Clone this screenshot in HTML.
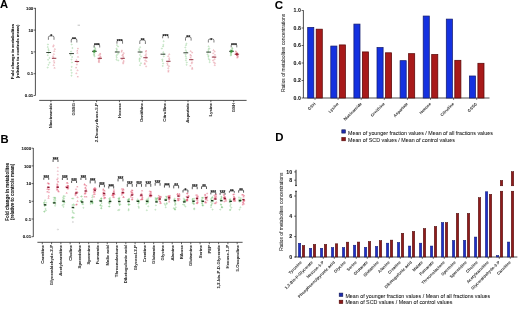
<!DOCTYPE html>
<html><head><meta charset="utf-8"><style>
html,body{margin:0;padding:0;background:#fff;width:520px;height:312px;overflow:hidden}
svg{display:block;filter:blur(0.35px)}
text{font-family:"Liberation Sans",sans-serif;stroke:currentColor;stroke-width:0.07px}
</style></head><body>
<svg width="520" height="312" viewBox="0 0 520 312">
<rect width="520" height="312" fill="#fff"/>
<text x="0.0" y="8.4" font-size="11.2" font-weight="bold" fill="#000" style="stroke-width:0.05px">A</text>
<text x="0.4" y="142.5" font-size="11.2" font-weight="bold" fill="#000" style="stroke-width:0.05px">B</text>
<text x="274.7" y="8.6" font-size="11.6" font-weight="bold" fill="#000" style="stroke-width:0.05px">C</text>
<text x="275.3" y="140.6" font-size="11.4" font-weight="bold" fill="#000" style="stroke-width:0.05px">D</text>
<line x1="35.4" y1="7.9" x2="35.4" y2="95.5" stroke="#222222" stroke-width="0.8"/>
<line x1="33.6" y1="8.30" x2="35.4" y2="8.30" stroke="#222222" stroke-width="0.7"/>
<text x="33.199999999999996" y="10.05" font-size="4.3" font-weight="bold" text-anchor="end" fill="#1a1a1a">100</text>
<line x1="33.6" y1="30.10" x2="35.4" y2="30.10" stroke="#222222" stroke-width="0.7"/>
<text x="33.199999999999996" y="31.85" font-size="4.3" font-weight="bold" text-anchor="end" fill="#1a1a1a">10</text>
<line x1="33.6" y1="51.90" x2="35.4" y2="51.90" stroke="#222222" stroke-width="0.7"/>
<text x="33.199999999999996" y="53.65" font-size="4.3" font-weight="bold" text-anchor="end" fill="#1a1a1a">1</text>
<line x1="33.6" y1="73.70" x2="35.4" y2="73.70" stroke="#222222" stroke-width="0.7"/>
<text x="33.199999999999996" y="75.45" font-size="4.3" font-weight="bold" text-anchor="end" fill="#1a1a1a">0.1</text>
<line x1="33.6" y1="95.50" x2="35.4" y2="95.50" stroke="#222222" stroke-width="0.7"/>
<text x="33.199999999999996" y="97.25" font-size="4.3" font-weight="bold" text-anchor="end" fill="#1a1a1a">0.01</text>
<line x1="39.2" y1="100.4" x2="246.6" y2="100.4" stroke="#222222" stroke-width="0.8"/>
<line x1="50.90" y1="100.3" x2="50.90" y2="102.2" stroke="#222222" stroke-width="0.7"/>
<text transform="translate(52.00,103) rotate(-90)" font-size="4.3" font-weight="bold" text-anchor="end" fill="#333" style="stroke:#333">Niacinamide</text>
<line x1="73.75" y1="100.3" x2="73.75" y2="102.2" stroke="#222222" stroke-width="0.7"/>
<text transform="translate(74.85,103) rotate(-90)" font-size="4.3" font-weight="bold" text-anchor="end" fill="#333" style="stroke:#333">GSSG</text>
<line x1="96.60" y1="100.3" x2="96.60" y2="102.2" stroke="#222222" stroke-width="0.7"/>
<text transform="translate(97.70,103) rotate(-90)" font-size="4.3" font-weight="bold" text-anchor="end" fill="#333" style="stroke:#333">2-Deoxy-ribose-5-P</text>
<line x1="119.45" y1="100.3" x2="119.45" y2="102.2" stroke="#222222" stroke-width="0.7"/>
<text transform="translate(120.55,103) rotate(-90)" font-size="4.3" font-weight="bold" text-anchor="end" fill="#333" style="stroke:#333">Hexose</text>
<line x1="142.30" y1="100.3" x2="142.30" y2="102.2" stroke="#222222" stroke-width="0.7"/>
<text transform="translate(143.40,103) rotate(-90)" font-size="4.3" font-weight="bold" text-anchor="end" fill="#333" style="stroke:#333">Ornithine</text>
<line x1="165.15" y1="100.3" x2="165.15" y2="102.2" stroke="#222222" stroke-width="0.7"/>
<text transform="translate(166.25,103) rotate(-90)" font-size="4.3" font-weight="bold" text-anchor="end" fill="#333" style="stroke:#333">Citrulline</text>
<line x1="188.00" y1="100.3" x2="188.00" y2="102.2" stroke="#222222" stroke-width="0.7"/>
<text transform="translate(189.10,103) rotate(-90)" font-size="4.3" font-weight="bold" text-anchor="end" fill="#333" style="stroke:#333">Aspartate</text>
<line x1="210.85" y1="100.3" x2="210.85" y2="102.2" stroke="#222222" stroke-width="0.7"/>
<text transform="translate(211.95,103) rotate(-90)" font-size="4.3" font-weight="bold" text-anchor="end" fill="#333" style="stroke:#333">Lysine</text>
<line x1="233.70" y1="100.3" x2="233.70" y2="102.2" stroke="#222222" stroke-width="0.7"/>
<text transform="translate(234.80,103) rotate(-90)" font-size="4.3" font-weight="bold" text-anchor="end" fill="#333" style="stroke:#333">GSH</text>
<text transform="translate(13.5,51.5) rotate(-90)" font-size="4.3" font-weight="bold" text-anchor="middle" fill="#1a1a1a">Fold change in metabolites</text>
<text transform="translate(18.6,51.5) rotate(-90)" font-size="4.3" font-weight="bold" text-anchor="middle" fill="#1a1a1a">(relative to controls mean)</text>
<circle cx="47.93" cy="44.43" r="0.55" fill="none" stroke="#7cc47c" stroke-width="0.45" opacity="0.8"/>
<circle cx="47.76" cy="47.10" r="0.55" fill="none" stroke="#7cc47c" stroke-width="0.45" opacity="0.8"/>
<circle cx="48.40" cy="49.17" r="0.55" fill="none" stroke="#7cc47c" stroke-width="0.45" opacity="0.8"/>
<circle cx="48.72" cy="50.76" r="0.55" fill="none" stroke="#7cc47c" stroke-width="0.45" opacity="0.8"/>
<circle cx="48.55" cy="52.96" r="0.55" fill="none" stroke="#7cc47c" stroke-width="0.45" opacity="0.8"/>
<circle cx="47.80" cy="55.23" r="0.55" fill="none" stroke="#7cc47c" stroke-width="0.45" opacity="0.8"/>
<circle cx="49.42" cy="57.93" r="0.55" fill="none" stroke="#7cc47c" stroke-width="0.45" opacity="0.8"/>
<circle cx="48.09" cy="59.76" r="0.55" fill="none" stroke="#7cc47c" stroke-width="0.45" opacity="0.8"/>
<circle cx="49.68" cy="62.66" r="0.55" fill="none" stroke="#7cc47c" stroke-width="0.45" opacity="0.8"/>
<circle cx="48.47" cy="64.82" r="0.55" fill="none" stroke="#7cc47c" stroke-width="0.45" opacity="0.8"/>
<circle cx="47.70" cy="67.58" r="0.55" fill="none" stroke="#7cc47c" stroke-width="0.45" opacity="0.8"/>
<path d="M52.94,45.67L53.64,44.57L54.34,45.67Z" fill="none" stroke="#e07f8c" stroke-width="0.45" opacity="0.8"/>
<path d="M52.56,46.97L53.26,45.87L53.96,46.97Z" fill="none" stroke="#e07f8c" stroke-width="0.45" opacity="0.8"/>
<path d="M54.10,49.47L54.80,48.37L55.50,49.47Z" fill="none" stroke="#e07f8c" stroke-width="0.45" opacity="0.8"/>
<path d="M53.58,51.56L54.28,50.46L54.98,51.56Z" fill="none" stroke="#e07f8c" stroke-width="0.45" opacity="0.8"/>
<path d="M53.12,54.46L53.82,53.36L54.52,54.46Z" fill="none" stroke="#e07f8c" stroke-width="0.45" opacity="0.8"/>
<path d="M52.44,56.61L53.14,55.51L53.84,56.61Z" fill="none" stroke="#e07f8c" stroke-width="0.45" opacity="0.8"/>
<path d="M52.75,58.22L53.45,57.12L54.15,58.22Z" fill="none" stroke="#e07f8c" stroke-width="0.45" opacity="0.8"/>
<path d="M53.24,61.34L53.94,60.24L54.64,61.34Z" fill="none" stroke="#e07f8c" stroke-width="0.45" opacity="0.8"/>
<path d="M53.59,63.11L54.29,62.01L54.99,63.11Z" fill="none" stroke="#e07f8c" stroke-width="0.45" opacity="0.8"/>
<path d="M52.96,65.57L53.66,64.47L54.36,65.57Z" fill="none" stroke="#e07f8c" stroke-width="0.45" opacity="0.8"/>
<path d="M53.84,68.31L54.54,67.21L55.24,68.31Z" fill="none" stroke="#e07f8c" stroke-width="0.45" opacity="0.8"/>
<line x1="46.30" y1="52.50" x2="51.10" y2="52.50" stroke="#1e2e1e" stroke-width="0.9"/>
<line x1="51.90" y1="58.30" x2="56.30" y2="58.30" stroke="#8a2434" stroke-width="0.9"/>
<path d="M48.40,39.80L48.40,37.50Q48.40,35.90 50.00,35.90L52.40,35.90Q54.00,35.90 54.00,37.50L54.00,39.80" fill="none" stroke="#222" stroke-width="0.6"/>
<text x="51.20" y="38.45" font-size="5.0" font-weight="bold" text-anchor="middle" fill="#1a1a1a" stroke="#1a1a1a" stroke-width="0.2">*</text>
<circle cx="71.71" cy="44.45" r="0.55" fill="none" stroke="#7cc47c" stroke-width="0.45" opacity="0.8"/>
<circle cx="72.38" cy="48.03" r="0.55" fill="none" stroke="#7cc47c" stroke-width="0.45" opacity="0.8"/>
<circle cx="71.08" cy="51.47" r="0.55" fill="none" stroke="#7cc47c" stroke-width="0.45" opacity="0.8"/>
<circle cx="70.71" cy="54.99" r="0.55" fill="none" stroke="#7cc47c" stroke-width="0.45" opacity="0.8"/>
<circle cx="72.12" cy="57.02" r="0.55" fill="none" stroke="#7cc47c" stroke-width="0.45" opacity="0.8"/>
<circle cx="71.53" cy="59.60" r="0.55" fill="none" stroke="#7cc47c" stroke-width="0.45" opacity="0.8"/>
<circle cx="71.92" cy="62.45" r="0.55" fill="none" stroke="#7cc47c" stroke-width="0.45" opacity="0.8"/>
<circle cx="71.71" cy="66.85" r="0.55" fill="none" stroke="#7cc47c" stroke-width="0.45" opacity="0.8"/>
<circle cx="71.14" cy="70.12" r="0.55" fill="none" stroke="#7cc47c" stroke-width="0.45" opacity="0.8"/>
<circle cx="71.76" cy="72.85" r="0.55" fill="none" stroke="#7cc47c" stroke-width="0.45" opacity="0.8"/>
<circle cx="71.45" cy="75.70" r="0.55" fill="none" stroke="#7cc47c" stroke-width="0.45" opacity="0.8"/>
<path d="M77.23,48.96L77.93,47.86L78.63,48.96Z" fill="none" stroke="#e07f8c" stroke-width="0.45" opacity="0.8"/>
<path d="M76.61,51.21L77.31,50.11L78.01,51.21Z" fill="none" stroke="#e07f8c" stroke-width="0.45" opacity="0.8"/>
<path d="M76.69,53.39L77.39,52.29L78.09,53.39Z" fill="none" stroke="#e07f8c" stroke-width="0.45" opacity="0.8"/>
<path d="M77.33,57.30L78.03,56.20L78.73,57.30Z" fill="none" stroke="#e07f8c" stroke-width="0.45" opacity="0.8"/>
<path d="M75.78,60.49L76.48,59.39L77.18,60.49Z" fill="none" stroke="#e07f8c" stroke-width="0.45" opacity="0.8"/>
<path d="M76.62,62.62L77.32,61.52L78.02,62.62Z" fill="none" stroke="#e07f8c" stroke-width="0.45" opacity="0.8"/>
<path d="M76.17,64.88L76.87,63.78L77.57,64.88Z" fill="none" stroke="#e07f8c" stroke-width="0.45" opacity="0.8"/>
<path d="M75.41,68.03L76.11,66.93L76.81,68.03Z" fill="none" stroke="#e07f8c" stroke-width="0.45" opacity="0.8"/>
<path d="M76.84,70.73L77.54,69.63L78.24,70.73Z" fill="none" stroke="#e07f8c" stroke-width="0.45" opacity="0.8"/>
<path d="M75.69,73.74L76.39,72.64L77.09,73.74Z" fill="none" stroke="#e07f8c" stroke-width="0.45" opacity="0.8"/>
<path d="M77.07,77.09L77.77,75.99L78.47,77.09Z" fill="none" stroke="#e07f8c" stroke-width="0.45" opacity="0.8"/>
<line x1="69.15" y1="53.60" x2="73.95" y2="53.60" stroke="#1e2e1e" stroke-width="0.9"/>
<line x1="74.75" y1="61.50" x2="79.15" y2="61.50" stroke="#8a2434" stroke-width="0.9"/>
<path d="M71.25,42.50L71.25,40.10Q71.25,38.50 72.85,38.50L75.25,38.50Q76.85,38.50 76.85,40.10L76.85,42.50" fill="none" stroke="#222" stroke-width="0.6"/>
<text x="74.05" y="41.05" font-size="5.0" font-weight="bold" text-anchor="middle" fill="#1a1a1a" stroke="#1a1a1a" stroke-width="0.2">**</text>
<circle cx="94.29" cy="47.04" r="0.55" fill="none" stroke="#7cc47c" stroke-width="0.45" opacity="0.8"/>
<circle cx="95.24" cy="48.21" r="0.55" fill="none" stroke="#7cc47c" stroke-width="0.45" opacity="0.8"/>
<circle cx="95.20" cy="49.27" r="0.55" fill="none" stroke="#7cc47c" stroke-width="0.45" opacity="0.8"/>
<circle cx="94.21" cy="49.88" r="0.55" fill="none" stroke="#7cc47c" stroke-width="0.45" opacity="0.8"/>
<circle cx="95.25" cy="50.83" r="0.55" fill="none" stroke="#7cc47c" stroke-width="0.45" opacity="0.8"/>
<circle cx="93.63" cy="52.07" r="0.55" fill="none" stroke="#7cc47c" stroke-width="0.45" opacity="0.8"/>
<circle cx="93.81" cy="52.55" r="0.55" fill="none" stroke="#7cc47c" stroke-width="0.45" opacity="0.8"/>
<circle cx="94.37" cy="53.49" r="0.55" fill="none" stroke="#7cc47c" stroke-width="0.45" opacity="0.8"/>
<circle cx="93.88" cy="54.59" r="0.55" fill="none" stroke="#7cc47c" stroke-width="0.45" opacity="0.8"/>
<circle cx="94.22" cy="55.18" r="0.55" fill="none" stroke="#7cc47c" stroke-width="0.45" opacity="0.8"/>
<circle cx="94.55" cy="56.29" r="0.55" fill="none" stroke="#7cc47c" stroke-width="0.45" opacity="0.8"/>
<path d="M99.52,54.02L100.22,52.92L100.92,54.02Z" fill="none" stroke="#e07f8c" stroke-width="0.45" opacity="0.8"/>
<path d="M99.36,54.69L100.06,53.59L100.76,54.69Z" fill="none" stroke="#e07f8c" stroke-width="0.45" opacity="0.8"/>
<path d="M98.12,55.69L98.82,54.59L99.52,55.69Z" fill="none" stroke="#e07f8c" stroke-width="0.45" opacity="0.8"/>
<path d="M99.72,56.72L100.42,55.62L101.12,56.72Z" fill="none" stroke="#e07f8c" stroke-width="0.45" opacity="0.8"/>
<path d="M99.76,57.61L100.46,56.51L101.16,57.61Z" fill="none" stroke="#e07f8c" stroke-width="0.45" opacity="0.8"/>
<path d="M98.88,58.26L99.58,57.16L100.28,58.26Z" fill="none" stroke="#e07f8c" stroke-width="0.45" opacity="0.8"/>
<path d="M99.40,59.01L100.10,57.91L100.80,59.01Z" fill="none" stroke="#e07f8c" stroke-width="0.45" opacity="0.8"/>
<path d="M98.15,59.90L98.85,58.80L99.55,59.90Z" fill="none" stroke="#e07f8c" stroke-width="0.45" opacity="0.8"/>
<path d="M98.36,60.89L99.06,59.79L99.76,60.89Z" fill="none" stroke="#e07f8c" stroke-width="0.45" opacity="0.8"/>
<path d="M98.12,61.87L98.82,60.77L99.52,61.87Z" fill="none" stroke="#e07f8c" stroke-width="0.45" opacity="0.8"/>
<path d="M98.33,62.59L99.03,61.49L99.73,62.59Z" fill="none" stroke="#e07f8c" stroke-width="0.45" opacity="0.8"/>
<line x1="92.00" y1="51.30" x2="96.80" y2="51.30" stroke="#1e2e1e" stroke-width="0.9"/>
<line x1="97.60" y1="58.30" x2="102.00" y2="58.30" stroke="#8a2434" stroke-width="0.9"/>
<path d="M94.10,47.50L94.10,45.80Q94.10,44.20 95.70,44.20L98.10,44.20Q99.70,44.20 99.70,45.80L99.70,47.50" fill="none" stroke="#222" stroke-width="0.6"/>
<text x="96.90" y="46.75" font-size="5.0" font-weight="bold" text-anchor="middle" fill="#1a1a1a" stroke="#1a1a1a" stroke-width="0.2">***</text>
<circle cx="116.95" cy="45.09" r="0.55" fill="none" stroke="#7cc47c" stroke-width="0.45" opacity="0.8"/>
<circle cx="118.07" cy="46.57" r="0.55" fill="none" stroke="#7cc47c" stroke-width="0.45" opacity="0.8"/>
<circle cx="116.48" cy="48.66" r="0.55" fill="none" stroke="#7cc47c" stroke-width="0.45" opacity="0.8"/>
<circle cx="116.91" cy="49.87" r="0.55" fill="none" stroke="#7cc47c" stroke-width="0.45" opacity="0.8"/>
<circle cx="116.42" cy="51.52" r="0.55" fill="none" stroke="#7cc47c" stroke-width="0.45" opacity="0.8"/>
<circle cx="118.33" cy="53.51" r="0.55" fill="none" stroke="#7cc47c" stroke-width="0.45" opacity="0.8"/>
<circle cx="117.21" cy="54.70" r="0.55" fill="none" stroke="#7cc47c" stroke-width="0.45" opacity="0.8"/>
<circle cx="116.37" cy="55.90" r="0.55" fill="none" stroke="#7cc47c" stroke-width="0.45" opacity="0.8"/>
<circle cx="116.73" cy="57.68" r="0.55" fill="none" stroke="#7cc47c" stroke-width="0.45" opacity="0.8"/>
<circle cx="116.51" cy="59.68" r="0.55" fill="none" stroke="#7cc47c" stroke-width="0.45" opacity="0.8"/>
<circle cx="118.24" cy="60.48" r="0.55" fill="none" stroke="#7cc47c" stroke-width="0.45" opacity="0.8"/>
<path d="M121.17,50.90L121.87,49.80L122.57,50.90Z" fill="none" stroke="#e07f8c" stroke-width="0.45" opacity="0.8"/>
<path d="M120.91,52.19L121.61,51.09L122.31,52.19Z" fill="none" stroke="#e07f8c" stroke-width="0.45" opacity="0.8"/>
<path d="M123.00,53.45L123.70,52.35L124.40,53.45Z" fill="none" stroke="#e07f8c" stroke-width="0.45" opacity="0.8"/>
<path d="M122.38,54.98L123.08,53.88L123.78,54.98Z" fill="none" stroke="#e07f8c" stroke-width="0.45" opacity="0.8"/>
<path d="M121.66,55.79L122.36,54.69L123.06,55.79Z" fill="none" stroke="#e07f8c" stroke-width="0.45" opacity="0.8"/>
<path d="M122.55,56.99L123.25,55.89L123.95,56.99Z" fill="none" stroke="#e07f8c" stroke-width="0.45" opacity="0.8"/>
<path d="M122.56,58.54L123.26,57.44L123.96,58.54Z" fill="none" stroke="#e07f8c" stroke-width="0.45" opacity="0.8"/>
<path d="M121.34,59.66L122.04,58.56L122.74,59.66Z" fill="none" stroke="#e07f8c" stroke-width="0.45" opacity="0.8"/>
<path d="M123.02,61.30L123.72,60.20L124.42,61.30Z" fill="none" stroke="#e07f8c" stroke-width="0.45" opacity="0.8"/>
<path d="M122.62,62.61L123.32,61.51L124.02,62.61Z" fill="none" stroke="#e07f8c" stroke-width="0.45" opacity="0.8"/>
<path d="M122.48,63.85L123.18,62.75L123.88,63.85Z" fill="none" stroke="#e07f8c" stroke-width="0.45" opacity="0.8"/>
<line x1="114.85" y1="52.00" x2="119.65" y2="52.00" stroke="#1e2e1e" stroke-width="0.9"/>
<line x1="120.45" y1="58.30" x2="124.85" y2="58.30" stroke="#8a2434" stroke-width="0.9"/>
<path d="M116.95,43.70L116.95,41.60Q116.95,40.00 118.55,40.00L120.95,40.00Q122.55,40.00 122.55,41.60L122.55,43.70" fill="none" stroke="#222" stroke-width="0.6"/>
<text x="119.75" y="42.55" font-size="5.0" font-weight="bold" text-anchor="middle" fill="#1a1a1a" stroke="#1a1a1a" stroke-width="0.2">***</text>
<circle cx="140.14" cy="47.23" r="0.55" fill="none" stroke="#7cc47c" stroke-width="0.45" opacity="0.8"/>
<circle cx="139.06" cy="49.10" r="0.55" fill="none" stroke="#7cc47c" stroke-width="0.45" opacity="0.8"/>
<circle cx="139.61" cy="50.48" r="0.55" fill="none" stroke="#7cc47c" stroke-width="0.45" opacity="0.8"/>
<circle cx="140.52" cy="52.45" r="0.55" fill="none" stroke="#7cc47c" stroke-width="0.45" opacity="0.8"/>
<circle cx="139.98" cy="54.90" r="0.55" fill="none" stroke="#7cc47c" stroke-width="0.45" opacity="0.8"/>
<circle cx="141.17" cy="56.61" r="0.55" fill="none" stroke="#7cc47c" stroke-width="0.45" opacity="0.8"/>
<circle cx="139.80" cy="58.35" r="0.55" fill="none" stroke="#7cc47c" stroke-width="0.45" opacity="0.8"/>
<circle cx="139.50" cy="59.32" r="0.55" fill="none" stroke="#7cc47c" stroke-width="0.45" opacity="0.8"/>
<circle cx="139.45" cy="61.02" r="0.55" fill="none" stroke="#7cc47c" stroke-width="0.45" opacity="0.8"/>
<circle cx="140.98" cy="63.19" r="0.55" fill="none" stroke="#7cc47c" stroke-width="0.45" opacity="0.8"/>
<circle cx="140.05" cy="65.14" r="0.55" fill="none" stroke="#7cc47c" stroke-width="0.45" opacity="0.8"/>
<path d="M145.46,51.11L146.16,50.01L146.86,51.11Z" fill="none" stroke="#e07f8c" stroke-width="0.45" opacity="0.8"/>
<path d="M145.15,52.12L145.85,51.02L146.55,52.12Z" fill="none" stroke="#e07f8c" stroke-width="0.45" opacity="0.8"/>
<path d="M145.42,54.43L146.12,53.33L146.82,54.43Z" fill="none" stroke="#e07f8c" stroke-width="0.45" opacity="0.8"/>
<path d="M144.75,55.83L145.45,54.73L146.15,55.83Z" fill="none" stroke="#e07f8c" stroke-width="0.45" opacity="0.8"/>
<path d="M145.44,56.85L146.14,55.75L146.84,56.85Z" fill="none" stroke="#e07f8c" stroke-width="0.45" opacity="0.8"/>
<path d="M145.46,58.54L146.16,57.44L146.86,58.54Z" fill="none" stroke="#e07f8c" stroke-width="0.45" opacity="0.8"/>
<path d="M144.57,60.67L145.27,59.57L145.97,60.67Z" fill="none" stroke="#e07f8c" stroke-width="0.45" opacity="0.8"/>
<path d="M145.78,61.69L146.48,60.59L147.18,61.69Z" fill="none" stroke="#e07f8c" stroke-width="0.45" opacity="0.8"/>
<path d="M144.07,63.54L144.77,62.44L145.47,63.54Z" fill="none" stroke="#e07f8c" stroke-width="0.45" opacity="0.8"/>
<path d="M144.03,64.53L144.73,63.43L145.43,64.53Z" fill="none" stroke="#e07f8c" stroke-width="0.45" opacity="0.8"/>
<path d="M145.47,66.79L146.17,65.69L146.87,66.79Z" fill="none" stroke="#e07f8c" stroke-width="0.45" opacity="0.8"/>
<line x1="137.70" y1="52.00" x2="142.50" y2="52.00" stroke="#1e2e1e" stroke-width="0.9"/>
<line x1="143.30" y1="57.70" x2="147.70" y2="57.70" stroke="#8a2434" stroke-width="0.9"/>
<path d="M139.80,44.00L139.80,41.50Q139.80,39.90 141.40,39.90L143.80,39.90Q145.40,39.90 145.40,41.50L145.40,44.00" fill="none" stroke="#222" stroke-width="0.6"/>
<text x="142.60" y="42.45" font-size="5.0" font-weight="bold" text-anchor="middle" fill="#1a1a1a" stroke="#1a1a1a" stroke-width="0.2">**</text>
<circle cx="163.67" cy="41.22" r="0.55" fill="none" stroke="#7cc47c" stroke-width="0.45" opacity="0.8"/>
<circle cx="163.30" cy="44.90" r="0.55" fill="none" stroke="#7cc47c" stroke-width="0.45" opacity="0.8"/>
<circle cx="163.06" cy="46.43" r="0.55" fill="none" stroke="#7cc47c" stroke-width="0.45" opacity="0.8"/>
<circle cx="161.88" cy="48.56" r="0.55" fill="none" stroke="#7cc47c" stroke-width="0.45" opacity="0.8"/>
<circle cx="163.28" cy="52.25" r="0.55" fill="none" stroke="#7cc47c" stroke-width="0.45" opacity="0.8"/>
<circle cx="163.90" cy="54.05" r="0.55" fill="none" stroke="#7cc47c" stroke-width="0.45" opacity="0.8"/>
<circle cx="163.77" cy="56.37" r="0.55" fill="none" stroke="#7cc47c" stroke-width="0.45" opacity="0.8"/>
<circle cx="162.31" cy="59.40" r="0.55" fill="none" stroke="#7cc47c" stroke-width="0.45" opacity="0.8"/>
<circle cx="162.49" cy="61.01" r="0.55" fill="none" stroke="#7cc47c" stroke-width="0.45" opacity="0.8"/>
<circle cx="163.14" cy="63.45" r="0.55" fill="none" stroke="#7cc47c" stroke-width="0.45" opacity="0.8"/>
<circle cx="162.77" cy="65.93" r="0.55" fill="none" stroke="#7cc47c" stroke-width="0.45" opacity="0.8"/>
<path d="M168.55,54.64L169.25,53.54L169.95,54.64Z" fill="none" stroke="#e07f8c" stroke-width="0.45" opacity="0.8"/>
<path d="M167.56,56.59L168.26,55.49L168.96,56.59Z" fill="none" stroke="#e07f8c" stroke-width="0.45" opacity="0.8"/>
<path d="M168.54,58.56L169.24,57.46L169.94,58.56Z" fill="none" stroke="#e07f8c" stroke-width="0.45" opacity="0.8"/>
<path d="M168.57,60.12L169.27,59.02L169.97,60.12Z" fill="none" stroke="#e07f8c" stroke-width="0.45" opacity="0.8"/>
<path d="M167.72,61.93L168.42,60.83L169.12,61.93Z" fill="none" stroke="#e07f8c" stroke-width="0.45" opacity="0.8"/>
<path d="M166.59,63.68L167.29,62.58L167.99,63.68Z" fill="none" stroke="#e07f8c" stroke-width="0.45" opacity="0.8"/>
<path d="M166.95,65.32L167.65,64.22L168.35,65.32Z" fill="none" stroke="#e07f8c" stroke-width="0.45" opacity="0.8"/>
<path d="M168.31,66.59L169.01,65.49L169.71,66.59Z" fill="none" stroke="#e07f8c" stroke-width="0.45" opacity="0.8"/>
<path d="M167.59,68.50L168.29,67.40L168.99,68.50Z" fill="none" stroke="#e07f8c" stroke-width="0.45" opacity="0.8"/>
<path d="M167.77,70.80L168.47,69.70L169.17,70.80Z" fill="none" stroke="#e07f8c" stroke-width="0.45" opacity="0.8"/>
<path d="M167.69,72.11L168.39,71.01L169.09,72.11Z" fill="none" stroke="#e07f8c" stroke-width="0.45" opacity="0.8"/>
<line x1="160.55" y1="54.20" x2="165.35" y2="54.20" stroke="#1e2e1e" stroke-width="0.9"/>
<line x1="166.15" y1="61.30" x2="170.55" y2="61.30" stroke="#8a2434" stroke-width="0.9"/>
<path d="M162.65,38.30L162.65,36.60Q162.65,35.00 164.25,35.00L166.65,35.00Q168.25,35.00 168.25,36.60L168.25,38.30" fill="none" stroke="#222" stroke-width="0.6"/>
<text x="165.45" y="37.55" font-size="5.0" font-weight="bold" text-anchor="middle" fill="#1a1a1a" stroke="#1a1a1a" stroke-width="0.2">***</text>
<circle cx="186.43" cy="43.70" r="0.55" fill="none" stroke="#7cc47c" stroke-width="0.45" opacity="0.8"/>
<circle cx="185.93" cy="45.22" r="0.55" fill="none" stroke="#7cc47c" stroke-width="0.45" opacity="0.8"/>
<circle cx="185.31" cy="47.49" r="0.55" fill="none" stroke="#7cc47c" stroke-width="0.45" opacity="0.8"/>
<circle cx="185.82" cy="50.24" r="0.55" fill="none" stroke="#7cc47c" stroke-width="0.45" opacity="0.8"/>
<circle cx="186.37" cy="52.07" r="0.55" fill="none" stroke="#7cc47c" stroke-width="0.45" opacity="0.8"/>
<circle cx="185.68" cy="54.60" r="0.55" fill="none" stroke="#7cc47c" stroke-width="0.45" opacity="0.8"/>
<circle cx="185.81" cy="56.31" r="0.55" fill="none" stroke="#7cc47c" stroke-width="0.45" opacity="0.8"/>
<circle cx="186.22" cy="58.28" r="0.55" fill="none" stroke="#7cc47c" stroke-width="0.45" opacity="0.8"/>
<circle cx="185.87" cy="60.29" r="0.55" fill="none" stroke="#7cc47c" stroke-width="0.45" opacity="0.8"/>
<circle cx="186.77" cy="62.42" r="0.55" fill="none" stroke="#7cc47c" stroke-width="0.45" opacity="0.8"/>
<circle cx="186.63" cy="64.79" r="0.55" fill="none" stroke="#7cc47c" stroke-width="0.45" opacity="0.8"/>
<path d="M189.97,51.55L190.67,50.45L191.37,51.55Z" fill="none" stroke="#e07f8c" stroke-width="0.45" opacity="0.8"/>
<path d="M191.48,52.99L192.18,51.89L192.88,52.99Z" fill="none" stroke="#e07f8c" stroke-width="0.45" opacity="0.8"/>
<path d="M189.70,55.17L190.40,54.07L191.10,55.17Z" fill="none" stroke="#e07f8c" stroke-width="0.45" opacity="0.8"/>
<path d="M190.37,56.23L191.07,55.13L191.77,56.23Z" fill="none" stroke="#e07f8c" stroke-width="0.45" opacity="0.8"/>
<path d="M189.93,58.04L190.63,56.94L191.33,58.04Z" fill="none" stroke="#e07f8c" stroke-width="0.45" opacity="0.8"/>
<path d="M190.87,59.90L191.57,58.80L192.27,59.90Z" fill="none" stroke="#e07f8c" stroke-width="0.45" opacity="0.8"/>
<path d="M191.37,62.56L192.07,61.46L192.77,62.56Z" fill="none" stroke="#e07f8c" stroke-width="0.45" opacity="0.8"/>
<path d="M190.98,63.72L191.68,62.62L192.38,63.72Z" fill="none" stroke="#e07f8c" stroke-width="0.45" opacity="0.8"/>
<path d="M189.71,66.15L190.41,65.05L191.11,66.15Z" fill="none" stroke="#e07f8c" stroke-width="0.45" opacity="0.8"/>
<path d="M191.53,68.26L192.23,67.16L192.93,68.26Z" fill="none" stroke="#e07f8c" stroke-width="0.45" opacity="0.8"/>
<path d="M191.50,69.38L192.20,68.28L192.90,69.38Z" fill="none" stroke="#e07f8c" stroke-width="0.45" opacity="0.8"/>
<line x1="183.40" y1="52.80" x2="188.20" y2="52.80" stroke="#1e2e1e" stroke-width="0.9"/>
<line x1="189.00" y1="59.70" x2="193.40" y2="59.70" stroke="#8a2434" stroke-width="0.9"/>
<path d="M185.50,40.60L185.50,38.40Q185.50,36.80 187.10,36.80L189.50,36.80Q191.10,36.80 191.10,38.40L191.10,40.60" fill="none" stroke="#222" stroke-width="0.6"/>
<text x="188.30" y="39.35" font-size="5.0" font-weight="bold" text-anchor="middle" fill="#1a1a1a" stroke="#1a1a1a" stroke-width="0.2">**</text>
<circle cx="208.62" cy="46.37" r="0.55" fill="none" stroke="#7cc47c" stroke-width="0.45" opacity="0.8"/>
<circle cx="209.38" cy="48.46" r="0.55" fill="none" stroke="#7cc47c" stroke-width="0.45" opacity="0.8"/>
<circle cx="208.50" cy="49.24" r="0.55" fill="none" stroke="#7cc47c" stroke-width="0.45" opacity="0.8"/>
<circle cx="208.30" cy="51.11" r="0.55" fill="none" stroke="#7cc47c" stroke-width="0.45" opacity="0.8"/>
<circle cx="208.25" cy="52.36" r="0.55" fill="none" stroke="#7cc47c" stroke-width="0.45" opacity="0.8"/>
<circle cx="207.59" cy="54.40" r="0.55" fill="none" stroke="#7cc47c" stroke-width="0.45" opacity="0.8"/>
<circle cx="208.52" cy="55.79" r="0.55" fill="none" stroke="#7cc47c" stroke-width="0.45" opacity="0.8"/>
<circle cx="208.28" cy="56.83" r="0.55" fill="none" stroke="#7cc47c" stroke-width="0.45" opacity="0.8"/>
<circle cx="208.68" cy="58.94" r="0.55" fill="none" stroke="#7cc47c" stroke-width="0.45" opacity="0.8"/>
<circle cx="209.72" cy="59.97" r="0.55" fill="none" stroke="#7cc47c" stroke-width="0.45" opacity="0.8"/>
<circle cx="209.69" cy="62.19" r="0.55" fill="none" stroke="#7cc47c" stroke-width="0.45" opacity="0.8"/>
<path d="M212.83,50.59L213.53,49.49L214.23,50.59Z" fill="none" stroke="#e07f8c" stroke-width="0.45" opacity="0.8"/>
<path d="M213.96,51.99L214.66,50.89L215.36,51.99Z" fill="none" stroke="#e07f8c" stroke-width="0.45" opacity="0.8"/>
<path d="M212.54,53.65L213.24,52.55L213.94,53.65Z" fill="none" stroke="#e07f8c" stroke-width="0.45" opacity="0.8"/>
<path d="M214.26,55.23L214.96,54.13L215.66,55.23Z" fill="none" stroke="#e07f8c" stroke-width="0.45" opacity="0.8"/>
<path d="M212.82,57.03L213.52,55.93L214.22,57.03Z" fill="none" stroke="#e07f8c" stroke-width="0.45" opacity="0.8"/>
<path d="M214.27,57.90L214.97,56.80L215.67,57.90Z" fill="none" stroke="#e07f8c" stroke-width="0.45" opacity="0.8"/>
<path d="M213.79,59.73L214.49,58.63L215.19,59.73Z" fill="none" stroke="#e07f8c" stroke-width="0.45" opacity="0.8"/>
<path d="M212.38,60.76L213.08,59.66L213.78,60.76Z" fill="none" stroke="#e07f8c" stroke-width="0.45" opacity="0.8"/>
<path d="M213.19,62.74L213.89,61.64L214.59,62.74Z" fill="none" stroke="#e07f8c" stroke-width="0.45" opacity="0.8"/>
<path d="M214.31,63.65L215.01,62.55L215.71,63.65Z" fill="none" stroke="#e07f8c" stroke-width="0.45" opacity="0.8"/>
<path d="M214.01,65.60L214.71,64.50L215.41,65.60Z" fill="none" stroke="#e07f8c" stroke-width="0.45" opacity="0.8"/>
<line x1="206.25" y1="52.10" x2="211.05" y2="52.10" stroke="#1e2e1e" stroke-width="0.9"/>
<line x1="211.85" y1="57.10" x2="216.25" y2="57.10" stroke="#8a2434" stroke-width="0.9"/>
<path d="M208.35,42.50L208.35,40.60Q208.35,39.00 209.95,39.00L212.35,39.00Q213.95,39.00 213.95,40.60L213.95,42.50" fill="none" stroke="#222" stroke-width="0.6"/>
<text x="211.15" y="41.55" font-size="5.0" font-weight="bold" text-anchor="middle" fill="#1a1a1a" stroke="#1a1a1a" stroke-width="0.2">*</text>
<circle cx="232.28" cy="48.04" r="0.55" fill="none" stroke="#7cc47c" stroke-width="0.45" opacity="0.8"/>
<circle cx="232.30" cy="48.76" r="0.55" fill="none" stroke="#7cc47c" stroke-width="0.45" opacity="0.8"/>
<circle cx="231.15" cy="49.65" r="0.55" fill="none" stroke="#7cc47c" stroke-width="0.45" opacity="0.8"/>
<circle cx="232.44" cy="50.42" r="0.55" fill="none" stroke="#7cc47c" stroke-width="0.45" opacity="0.8"/>
<circle cx="230.68" cy="51.03" r="0.55" fill="none" stroke="#7cc47c" stroke-width="0.45" opacity="0.8"/>
<circle cx="230.92" cy="51.87" r="0.55" fill="none" stroke="#7cc47c" stroke-width="0.45" opacity="0.8"/>
<circle cx="230.76" cy="52.41" r="0.55" fill="none" stroke="#7cc47c" stroke-width="0.45" opacity="0.8"/>
<circle cx="230.84" cy="53.11" r="0.55" fill="none" stroke="#7cc47c" stroke-width="0.45" opacity="0.8"/>
<circle cx="231.07" cy="53.95" r="0.55" fill="none" stroke="#7cc47c" stroke-width="0.45" opacity="0.8"/>
<circle cx="231.04" cy="54.88" r="0.55" fill="none" stroke="#7cc47c" stroke-width="0.45" opacity="0.8"/>
<circle cx="230.79" cy="55.49" r="0.55" fill="none" stroke="#7cc47c" stroke-width="0.45" opacity="0.8"/>
<path d="M235.14,51.63L235.84,50.53L236.54,51.63Z" fill="none" stroke="#e07f8c" stroke-width="0.45" opacity="0.8"/>
<path d="M235.13,52.23L235.83,51.13L236.53,52.23Z" fill="none" stroke="#e07f8c" stroke-width="0.45" opacity="0.8"/>
<path d="M236.31,53.05L237.01,51.95L237.71,53.05Z" fill="none" stroke="#e07f8c" stroke-width="0.45" opacity="0.8"/>
<path d="M236.14,53.48L236.84,52.38L237.54,53.48Z" fill="none" stroke="#e07f8c" stroke-width="0.45" opacity="0.8"/>
<path d="M235.33,54.40L236.03,53.30L236.73,54.40Z" fill="none" stroke="#e07f8c" stroke-width="0.45" opacity="0.8"/>
<path d="M236.05,54.99L236.75,53.89L237.45,54.99Z" fill="none" stroke="#e07f8c" stroke-width="0.45" opacity="0.8"/>
<path d="M236.94,55.51L237.64,54.41L238.34,55.51Z" fill="none" stroke="#e07f8c" stroke-width="0.45" opacity="0.8"/>
<path d="M236.21,56.10L236.91,55.00L237.61,56.10Z" fill="none" stroke="#e07f8c" stroke-width="0.45" opacity="0.8"/>
<path d="M237.26,56.85L237.96,55.75L238.66,56.85Z" fill="none" stroke="#e07f8c" stroke-width="0.45" opacity="0.8"/>
<path d="M236.93,57.36L237.63,56.26L238.33,57.36Z" fill="none" stroke="#e07f8c" stroke-width="0.45" opacity="0.8"/>
<path d="M236.50,58.13L237.20,57.03L237.90,58.13Z" fill="none" stroke="#e07f8c" stroke-width="0.45" opacity="0.8"/>
<line x1="229.10" y1="51.30" x2="233.90" y2="51.30" stroke="#1e2e1e" stroke-width="0.9"/>
<line x1="234.70" y1="54.20" x2="239.10" y2="54.20" stroke="#8a2434" stroke-width="0.9"/>
<path d="M231.20,47.40L231.20,45.70Q231.20,44.10 232.80,44.10L235.20,44.10Q236.80,44.10 236.80,45.70L236.80,47.40" fill="none" stroke="#222" stroke-width="0.6"/>
<text x="234.00" y="46.65" font-size="5.0" font-weight="bold" text-anchor="middle" fill="#1a1a1a" stroke="#1a1a1a" stroke-width="0.2">***</text>
<circle cx="94.40" cy="51.30" r="1.35" fill="#3c8c3c"/>
<circle cx="231.50" cy="51.30" r="1.35" fill="#3c8c3c"/>
<circle cx="236.90" cy="54.20" r="1.2" fill="#a02838"/>
<line x1="77.6" y1="25.2" x2="80.0" y2="25.2" stroke="#999" stroke-width="0.6"/>
<line x1="33.3" y1="148.0" x2="33.3" y2="236.9" stroke="#222222" stroke-width="0.8"/>
<line x1="31.499999999999996" y1="148.20" x2="33.3" y2="148.20" stroke="#222222" stroke-width="0.7"/>
<text x="31.099999999999998" y="149.95" font-size="4.3" font-weight="bold" text-anchor="end" fill="#1a1a1a">1000</text>
<line x1="31.499999999999996" y1="165.90" x2="33.3" y2="165.90" stroke="#222222" stroke-width="0.7"/>
<text x="31.099999999999998" y="167.65" font-size="4.3" font-weight="bold" text-anchor="end" fill="#1a1a1a">100</text>
<line x1="31.499999999999996" y1="183.60" x2="33.3" y2="183.60" stroke="#222222" stroke-width="0.7"/>
<text x="31.099999999999998" y="185.35" font-size="4.3" font-weight="bold" text-anchor="end" fill="#1a1a1a">10</text>
<line x1="31.499999999999996" y1="201.30" x2="33.3" y2="201.30" stroke="#222222" stroke-width="0.7"/>
<text x="31.099999999999998" y="203.05" font-size="4.3" font-weight="bold" text-anchor="end" fill="#1a1a1a">1</text>
<line x1="31.499999999999996" y1="219.00" x2="33.3" y2="219.00" stroke="#222222" stroke-width="0.7"/>
<text x="31.099999999999998" y="220.75" font-size="4.3" font-weight="bold" text-anchor="end" fill="#1a1a1a">0.1</text>
<line x1="31.499999999999996" y1="236.70" x2="33.3" y2="236.70" stroke="#222222" stroke-width="0.7"/>
<text x="31.099999999999998" y="238.45" font-size="4.3" font-weight="bold" text-anchor="end" fill="#1a1a1a">0.01</text>
<line x1="37.4" y1="242.3" x2="242.6" y2="242.3" stroke="#222222" stroke-width="0.8"/>
<line x1="42.30" y1="242.3" x2="42.30" y2="244.2" stroke="#222222" stroke-width="0.7"/>
<text transform="translate(43.80,245) rotate(-90)" font-size="4.3" font-weight="bold" text-anchor="end" fill="#333" style="stroke:#333">Carnitine</text>
<line x1="51.58" y1="242.3" x2="51.58" y2="244.2" stroke="#222222" stroke-width="0.7"/>
<text transform="translate(53.08,245) rotate(-90)" font-size="4.3" font-weight="bold" text-anchor="end" fill="#333" style="stroke:#333">Glyceraldehyde-3-P</text>
<line x1="60.86" y1="242.3" x2="60.86" y2="244.2" stroke="#222222" stroke-width="0.7"/>
<text transform="translate(62.36,245) rotate(-90)" font-size="4.3" font-weight="bold" text-anchor="end" fill="#333" style="stroke:#333">Acetylcarnitine</text>
<line x1="70.14" y1="242.3" x2="70.14" y2="244.2" stroke="#222222" stroke-width="0.7"/>
<text transform="translate(71.64,245) rotate(-90)" font-size="4.3" font-weight="bold" text-anchor="end" fill="#333" style="stroke:#333">Choline</text>
<line x1="79.42" y1="242.3" x2="79.42" y2="244.2" stroke="#222222" stroke-width="0.7"/>
<text transform="translate(80.92,245) rotate(-90)" font-size="4.3" font-weight="bold" text-anchor="end" fill="#333" style="stroke:#333">Spermidine</text>
<line x1="88.70" y1="242.3" x2="88.70" y2="244.2" stroke="#222222" stroke-width="0.7"/>
<text transform="translate(90.20,245) rotate(-90)" font-size="4.3" font-weight="bold" text-anchor="end" fill="#333" style="stroke:#333">Spermine</text>
<line x1="97.98" y1="242.3" x2="97.98" y2="244.2" stroke="#222222" stroke-width="0.7"/>
<text transform="translate(99.48,245) rotate(-90)" font-size="4.3" font-weight="bold" text-anchor="end" fill="#333" style="stroke:#333">Fumarate</text>
<line x1="107.26" y1="242.3" x2="107.26" y2="244.2" stroke="#222222" stroke-width="0.7"/>
<text transform="translate(108.76,245) rotate(-90)" font-size="4.3" font-weight="bold" text-anchor="end" fill="#333" style="stroke:#333">Malic acid</text>
<line x1="116.54" y1="242.3" x2="116.54" y2="244.2" stroke="#222222" stroke-width="0.7"/>
<text transform="translate(118.04,245) rotate(-90)" font-size="4.3" font-weight="bold" text-anchor="end" fill="#333" style="stroke:#333">Threonolactone</text>
<line x1="125.82" y1="242.3" x2="125.82" y2="244.2" stroke="#222222" stroke-width="0.7"/>
<text transform="translate(127.32,245) rotate(-90)" font-size="4.3" font-weight="bold" text-anchor="end" fill="#333" style="stroke:#333">Diketogulonic acid</text>
<line x1="135.10" y1="242.3" x2="135.10" y2="244.2" stroke="#222222" stroke-width="0.7"/>
<text transform="translate(136.60,245) rotate(-90)" font-size="4.3" font-weight="bold" text-anchor="end" fill="#333" style="stroke:#333">Glycerol-3-P</text>
<line x1="144.38" y1="242.3" x2="144.38" y2="244.2" stroke="#222222" stroke-width="0.7"/>
<text transform="translate(145.88,245) rotate(-90)" font-size="4.3" font-weight="bold" text-anchor="end" fill="#333" style="stroke:#333">Creatine</text>
<line x1="153.66" y1="242.3" x2="153.66" y2="244.2" stroke="#222222" stroke-width="0.7"/>
<text transform="translate(155.16,245) rotate(-90)" font-size="4.3" font-weight="bold" text-anchor="end" fill="#333" style="stroke:#333">Glutarate</text>
<line x1="162.94" y1="242.3" x2="162.94" y2="244.2" stroke="#222222" stroke-width="0.7"/>
<text transform="translate(164.44,245) rotate(-90)" font-size="4.3" font-weight="bold" text-anchor="end" fill="#333" style="stroke:#333">Glycine</text>
<line x1="172.22" y1="242.3" x2="172.22" y2="244.2" stroke="#222222" stroke-width="0.7"/>
<text transform="translate(173.72,245) rotate(-90)" font-size="4.3" font-weight="bold" text-anchor="end" fill="#333" style="stroke:#333">Alanine</text>
<line x1="181.50" y1="242.3" x2="181.50" y2="244.2" stroke="#222222" stroke-width="0.7"/>
<text transform="translate(183.00,245) rotate(-90)" font-size="4.3" font-weight="bold" text-anchor="end" fill="#333" style="stroke:#333">Ribose</text>
<line x1="190.78" y1="242.3" x2="190.78" y2="244.2" stroke="#222222" stroke-width="0.7"/>
<text transform="translate(192.28,245) rotate(-90)" font-size="4.3" font-weight="bold" text-anchor="end" fill="#333" style="stroke:#333">Glutamine</text>
<line x1="200.06" y1="242.3" x2="200.06" y2="244.2" stroke="#222222" stroke-width="0.7"/>
<text transform="translate(201.56,245) rotate(-90)" font-size="4.3" font-weight="bold" text-anchor="end" fill="#333" style="stroke:#333">Serine</text>
<line x1="209.34" y1="242.3" x2="209.34" y2="244.2" stroke="#222222" stroke-width="0.7"/>
<text transform="translate(210.84,245) rotate(-90)" font-size="4.3" font-weight="bold" text-anchor="end" fill="#333" style="stroke:#333">PEP</text>
<line x1="218.62" y1="242.3" x2="218.62" y2="244.2" stroke="#222222" stroke-width="0.7"/>
<text transform="translate(220.12,245) rotate(-90)" font-size="4.3" font-weight="bold" text-anchor="end" fill="#333" style="stroke:#333">1,3-bis-P-D-Glycerate</text>
<line x1="227.90" y1="242.3" x2="227.90" y2="244.2" stroke="#222222" stroke-width="0.7"/>
<text transform="translate(229.40,245) rotate(-90)" font-size="4.3" font-weight="bold" text-anchor="end" fill="#333" style="stroke:#333">Hexose-1-P</text>
<line x1="237.18" y1="242.3" x2="237.18" y2="244.2" stroke="#222222" stroke-width="0.7"/>
<text transform="translate(238.68,245) rotate(-90)" font-size="4.3" font-weight="bold" text-anchor="end" fill="#333" style="stroke:#333">5-Oxoproline</text>
<text transform="translate(8.6,191.8) rotate(-90)" font-size="4.5" font-weight="bold" text-anchor="middle" fill="#1a1a1a">Fold change in metabolites</text>
<text transform="translate(13.7,191.8) rotate(-90)" font-size="4.5" font-weight="bold" text-anchor="middle" fill="#1a1a1a">(relative to controls mean)</text>
<circle cx="44.02" cy="203.96" r="0.55" fill="none" stroke="#66bb66" stroke-width="0.5" opacity="0.62"/>
<circle cx="45.87" cy="205.08" r="0.55" fill="none" stroke="#66bb66" stroke-width="0.5" opacity="0.62"/>
<circle cx="44.55" cy="205.91" r="0.55" fill="none" stroke="#66bb66" stroke-width="0.5" opacity="0.62"/>
<circle cx="46.16" cy="202.68" r="0.55" fill="none" stroke="#66bb66" stroke-width="0.5" opacity="0.62"/>
<circle cx="44.59" cy="211.49" r="0.55" fill="none" stroke="#66bb66" stroke-width="0.5" opacity="0.62"/>
<circle cx="45.06" cy="200.25" r="0.55" fill="none" stroke="#66bb66" stroke-width="0.5" opacity="0.62"/>
<circle cx="44.07" cy="202.67" r="0.55" fill="none" stroke="#66bb66" stroke-width="0.5" opacity="0.62"/>
<circle cx="44.41" cy="202.25" r="0.55" fill="none" stroke="#66bb66" stroke-width="0.5" opacity="0.62"/>
<circle cx="45.57" cy="208.86" r="0.55" fill="none" stroke="#66bb66" stroke-width="0.5" opacity="0.62"/>
<circle cx="44.21" cy="211.66" r="0.55" fill="none" stroke="#66bb66" stroke-width="0.5" opacity="0.62"/>
<circle cx="45.99" cy="210.34" r="0.55" fill="none" stroke="#66bb66" stroke-width="0.5" opacity="0.62"/>
<circle cx="45.11" cy="205.34" r="0.55" fill="none" stroke="#66bb66" stroke-width="0.5" opacity="0.62"/>
<path d="M48.00,196.39L48.70,195.29L49.40,196.39Z" fill="none" stroke="#e0506e" stroke-width="0.5" opacity="0.68"/>
<path d="M46.67,189.43L47.37,188.33L48.07,189.43Z" fill="none" stroke="#e0506e" stroke-width="0.5" opacity="0.68"/>
<path d="M47.94,183.84L48.64,182.74L49.34,183.84Z" fill="none" stroke="#e0506e" stroke-width="0.5" opacity="0.68"/>
<path d="M46.61,192.14L47.31,191.04L48.01,192.14Z" fill="none" stroke="#e0506e" stroke-width="0.5" opacity="0.68"/>
<path d="M48.18,192.68L48.88,191.58L49.58,192.68Z" fill="none" stroke="#e0506e" stroke-width="0.5" opacity="0.68"/>
<path d="M47.24,187.63L47.94,186.53L48.64,187.63Z" fill="none" stroke="#e0506e" stroke-width="0.5" opacity="0.68"/>
<path d="M47.79,198.45L48.49,197.35L49.19,198.45Z" fill="none" stroke="#e0506e" stroke-width="0.5" opacity="0.68"/>
<path d="M48.08,184.26L48.78,183.16L49.48,184.26Z" fill="none" stroke="#e0506e" stroke-width="0.5" opacity="0.68"/>
<path d="M48.38,189.65L49.08,188.55L49.78,189.65Z" fill="none" stroke="#e0506e" stroke-width="0.5" opacity="0.68"/>
<path d="M47.25,187.67L47.95,186.57L48.65,187.67Z" fill="none" stroke="#e0506e" stroke-width="0.5" opacity="0.68"/>
<path d="M47.84,190.01L48.54,188.91L49.24,190.01Z" fill="none" stroke="#e0506e" stroke-width="0.5" opacity="0.68"/>
<path d="M47.08,183.48L47.78,182.38L48.48,183.48Z" fill="none" stroke="#e0506e" stroke-width="0.5" opacity="0.68"/>
<rect x="43.85" y="204.10" width="2.4" height="1.4" fill="#1e3a1e"/>
<rect x="47.40" y="186.60" width="2.2" height="1.4" fill="#8a1830"/>
<path d="M43.80,179.80L43.80,177.90Q43.80,177.30 44.40,177.30L48.10,177.30Q48.70,177.30 48.70,177.90L48.70,179.80" fill="none" stroke="#222" stroke-width="0.75"/>
<text x="46.25" y="179.08" font-size="4.7" font-weight="bold" text-anchor="middle" fill="#1a1a1a" stroke="#1a1a1a" stroke-width="0.2">***</text>
<circle cx="55.10" cy="205.81" r="0.55" fill="none" stroke="#66bb66" stroke-width="0.5" opacity="0.62"/>
<circle cx="55.40" cy="203.95" r="0.55" fill="none" stroke="#66bb66" stroke-width="0.5" opacity="0.62"/>
<circle cx="55.42" cy="200.31" r="0.55" fill="none" stroke="#66bb66" stroke-width="0.5" opacity="0.62"/>
<circle cx="54.82" cy="197.77" r="0.55" fill="none" stroke="#66bb66" stroke-width="0.5" opacity="0.62"/>
<circle cx="53.14" cy="202.85" r="0.55" fill="none" stroke="#66bb66" stroke-width="0.5" opacity="0.62"/>
<circle cx="53.96" cy="202.43" r="0.55" fill="none" stroke="#66bb66" stroke-width="0.5" opacity="0.62"/>
<circle cx="55.14" cy="198.77" r="0.55" fill="none" stroke="#66bb66" stroke-width="0.5" opacity="0.62"/>
<circle cx="53.83" cy="197.66" r="0.55" fill="none" stroke="#66bb66" stroke-width="0.5" opacity="0.62"/>
<circle cx="54.00" cy="199.88" r="0.55" fill="none" stroke="#66bb66" stroke-width="0.5" opacity="0.62"/>
<circle cx="55.13" cy="202.59" r="0.55" fill="none" stroke="#66bb66" stroke-width="0.5" opacity="0.62"/>
<circle cx="54.36" cy="201.83" r="0.55" fill="none" stroke="#66bb66" stroke-width="0.5" opacity="0.62"/>
<circle cx="55.08" cy="197.79" r="0.55" fill="none" stroke="#66bb66" stroke-width="0.5" opacity="0.62"/>
<path d="M57.61,191.37L58.31,190.27L59.01,191.37Z" fill="none" stroke="#e0506e" stroke-width="0.5" opacity="0.68"/>
<path d="M57.43,182.17L58.13,181.07L58.83,182.17Z" fill="none" stroke="#e0506e" stroke-width="0.5" opacity="0.68"/>
<path d="M57.01,187.15L57.71,186.05L58.41,187.15Z" fill="none" stroke="#e0506e" stroke-width="0.5" opacity="0.68"/>
<path d="M56.50,179.95L57.20,178.85L57.90,179.95Z" fill="none" stroke="#e0506e" stroke-width="0.5" opacity="0.68"/>
<path d="M56.28,190.09L56.98,188.99L57.68,190.09Z" fill="none" stroke="#e0506e" stroke-width="0.5" opacity="0.68"/>
<path d="M56.41,184.48L57.11,183.38L57.81,184.48Z" fill="none" stroke="#e0506e" stroke-width="0.5" opacity="0.68"/>
<path d="M56.34,188.32L57.04,187.22L57.74,188.32Z" fill="none" stroke="#e0506e" stroke-width="0.5" opacity="0.68"/>
<path d="M56.50,186.45L57.20,185.35L57.90,186.45Z" fill="none" stroke="#e0506e" stroke-width="0.5" opacity="0.68"/>
<path d="M56.87,190.23L57.57,189.13L58.27,190.23Z" fill="none" stroke="#e0506e" stroke-width="0.5" opacity="0.68"/>
<path d="M56.55,187.92L57.25,186.82L57.95,187.92Z" fill="none" stroke="#e0506e" stroke-width="0.5" opacity="0.68"/>
<path d="M57.95,192.08L58.65,190.98L59.35,192.08Z" fill="none" stroke="#e0506e" stroke-width="0.5" opacity="0.68"/>
<path d="M56.95,185.27L57.65,184.17L58.35,185.27Z" fill="none" stroke="#e0506e" stroke-width="0.5" opacity="0.68"/>
<rect x="53.13" y="202.20" width="2.4" height="1.4" fill="#1e3a1e"/>
<rect x="56.68" y="186.50" width="2.2" height="1.4" fill="#8a1830"/>
<path d="M53.08,162.00L53.08,159.70Q53.08,159.10 53.68,159.10L57.38,159.10Q57.98,159.10 57.98,159.70L57.98,162.00" fill="none" stroke="#222" stroke-width="0.75"/>
<text x="55.53" y="160.88" font-size="4.7" font-weight="bold" text-anchor="middle" fill="#1a1a1a" stroke="#1a1a1a" stroke-width="0.2">***</text>
<circle cx="62.49" cy="201.26" r="0.55" fill="none" stroke="#66bb66" stroke-width="0.5" opacity="0.62"/>
<circle cx="62.41" cy="205.20" r="0.55" fill="none" stroke="#66bb66" stroke-width="0.5" opacity="0.62"/>
<circle cx="64.74" cy="196.30" r="0.55" fill="none" stroke="#66bb66" stroke-width="0.5" opacity="0.62"/>
<circle cx="64.05" cy="198.62" r="0.55" fill="none" stroke="#66bb66" stroke-width="0.5" opacity="0.62"/>
<circle cx="63.51" cy="206.85" r="0.55" fill="none" stroke="#66bb66" stroke-width="0.5" opacity="0.62"/>
<circle cx="64.62" cy="202.40" r="0.55" fill="none" stroke="#66bb66" stroke-width="0.5" opacity="0.62"/>
<circle cx="63.94" cy="202.53" r="0.55" fill="none" stroke="#66bb66" stroke-width="0.5" opacity="0.62"/>
<circle cx="63.81" cy="204.66" r="0.55" fill="none" stroke="#66bb66" stroke-width="0.5" opacity="0.62"/>
<circle cx="63.13" cy="201.18" r="0.55" fill="none" stroke="#66bb66" stroke-width="0.5" opacity="0.62"/>
<circle cx="63.55" cy="196.09" r="0.55" fill="none" stroke="#66bb66" stroke-width="0.5" opacity="0.62"/>
<circle cx="63.15" cy="197.39" r="0.55" fill="none" stroke="#66bb66" stroke-width="0.5" opacity="0.62"/>
<circle cx="63.03" cy="199.26" r="0.55" fill="none" stroke="#66bb66" stroke-width="0.5" opacity="0.62"/>
<path d="M65.97,187.97L66.67,186.87L67.37,187.97Z" fill="none" stroke="#e0506e" stroke-width="0.5" opacity="0.68"/>
<path d="M66.93,183.43L67.63,182.33L68.33,183.43Z" fill="none" stroke="#e0506e" stroke-width="0.5" opacity="0.68"/>
<path d="M67.13,189.22L67.83,188.12L68.53,189.22Z" fill="none" stroke="#e0506e" stroke-width="0.5" opacity="0.68"/>
<path d="M67.44,186.67L68.14,185.57L68.84,186.67Z" fill="none" stroke="#e0506e" stroke-width="0.5" opacity="0.68"/>
<path d="M66.76,185.98L67.46,184.88L68.16,185.98Z" fill="none" stroke="#e0506e" stroke-width="0.5" opacity="0.68"/>
<path d="M67.50,188.70L68.20,187.60L68.90,188.70Z" fill="none" stroke="#e0506e" stroke-width="0.5" opacity="0.68"/>
<path d="M67.32,186.12L68.02,185.02L68.72,186.12Z" fill="none" stroke="#e0506e" stroke-width="0.5" opacity="0.68"/>
<path d="M65.95,193.37L66.65,192.27L67.35,193.37Z" fill="none" stroke="#e0506e" stroke-width="0.5" opacity="0.68"/>
<path d="M66.75,187.83L67.45,186.73L68.15,187.83Z" fill="none" stroke="#e0506e" stroke-width="0.5" opacity="0.68"/>
<path d="M65.17,187.30L65.87,186.20L66.57,187.30Z" fill="none" stroke="#e0506e" stroke-width="0.5" opacity="0.68"/>
<path d="M67.47,187.50L68.17,186.40L68.87,187.50Z" fill="none" stroke="#e0506e" stroke-width="0.5" opacity="0.68"/>
<path d="M66.20,183.25L66.90,182.15L67.60,183.25Z" fill="none" stroke="#e0506e" stroke-width="0.5" opacity="0.68"/>
<rect x="62.41" y="200.50" width="2.4" height="1.4" fill="#1e3a1e"/>
<rect x="65.96" y="186.70" width="2.2" height="1.4" fill="#8a1830"/>
<path d="M62.36,180.00L62.36,178.00Q62.36,177.40 62.96,177.40L66.66,177.40Q67.26,177.40 67.26,178.00L67.26,180.00" fill="none" stroke="#222" stroke-width="0.75"/>
<text x="64.81" y="179.18" font-size="4.7" font-weight="bold" text-anchor="middle" fill="#1a1a1a" stroke="#1a1a1a" stroke-width="0.2">***</text>
<circle cx="72.15" cy="198.53" r="0.55" fill="none" stroke="#66bb66" stroke-width="0.5" opacity="0.62"/>
<circle cx="73.64" cy="204.35" r="0.55" fill="none" stroke="#66bb66" stroke-width="0.5" opacity="0.62"/>
<circle cx="73.90" cy="207.91" r="0.55" fill="none" stroke="#66bb66" stroke-width="0.5" opacity="0.62"/>
<circle cx="72.34" cy="205.05" r="0.55" fill="none" stroke="#66bb66" stroke-width="0.5" opacity="0.62"/>
<circle cx="72.45" cy="217.23" r="0.55" fill="none" stroke="#66bb66" stroke-width="0.5" opacity="0.62"/>
<circle cx="73.21" cy="198.57" r="0.55" fill="none" stroke="#66bb66" stroke-width="0.5" opacity="0.62"/>
<circle cx="73.99" cy="213.20" r="0.55" fill="none" stroke="#66bb66" stroke-width="0.5" opacity="0.62"/>
<circle cx="72.87" cy="212.51" r="0.55" fill="none" stroke="#66bb66" stroke-width="0.5" opacity="0.62"/>
<circle cx="73.66" cy="217.61" r="0.55" fill="none" stroke="#66bb66" stroke-width="0.5" opacity="0.62"/>
<circle cx="72.56" cy="210.90" r="0.55" fill="none" stroke="#66bb66" stroke-width="0.5" opacity="0.62"/>
<circle cx="72.28" cy="217.87" r="0.55" fill="none" stroke="#66bb66" stroke-width="0.5" opacity="0.62"/>
<circle cx="74.04" cy="205.17" r="0.55" fill="none" stroke="#66bb66" stroke-width="0.5" opacity="0.62"/>
<path d="M74.67,194.06L75.37,192.96L76.07,194.06Z" fill="none" stroke="#e0506e" stroke-width="0.5" opacity="0.68"/>
<path d="M75.44,192.29L76.14,191.19L76.84,192.29Z" fill="none" stroke="#e0506e" stroke-width="0.5" opacity="0.68"/>
<path d="M76.03,204.78L76.73,203.68L77.43,204.78Z" fill="none" stroke="#e0506e" stroke-width="0.5" opacity="0.68"/>
<path d="M75.34,189.67L76.04,188.57L76.74,189.67Z" fill="none" stroke="#e0506e" stroke-width="0.5" opacity="0.68"/>
<path d="M74.81,195.75L75.51,194.65L76.21,195.75Z" fill="none" stroke="#e0506e" stroke-width="0.5" opacity="0.68"/>
<path d="M76.82,197.70L77.52,196.60L78.22,197.70Z" fill="none" stroke="#e0506e" stroke-width="0.5" opacity="0.68"/>
<path d="M76.82,201.55L77.52,200.45L78.22,201.55Z" fill="none" stroke="#e0506e" stroke-width="0.5" opacity="0.68"/>
<path d="M76.63,187.12L77.33,186.02L78.03,187.12Z" fill="none" stroke="#e0506e" stroke-width="0.5" opacity="0.68"/>
<path d="M76.78,192.58L77.48,191.48L78.18,192.58Z" fill="none" stroke="#e0506e" stroke-width="0.5" opacity="0.68"/>
<path d="M75.52,205.11L76.22,204.01L76.92,205.11Z" fill="none" stroke="#e0506e" stroke-width="0.5" opacity="0.68"/>
<path d="M75.87,193.07L76.57,191.97L77.27,193.07Z" fill="none" stroke="#e0506e" stroke-width="0.5" opacity="0.68"/>
<path d="M74.93,194.60L75.63,193.50L76.33,194.60Z" fill="none" stroke="#e0506e" stroke-width="0.5" opacity="0.68"/>
<rect x="71.69" y="206.80" width="2.4" height="1.4" fill="#1e3a1e"/>
<rect x="75.24" y="192.30" width="2.2" height="1.4" fill="#8a1830"/>
<path d="M71.64,183.00L71.64,181.00Q71.64,180.40 72.24,180.40L75.94,180.40Q76.54,180.40 76.54,181.00L76.54,183.00" fill="none" stroke="#222" stroke-width="0.75"/>
<text x="74.09" y="182.18" font-size="4.7" font-weight="bold" text-anchor="middle" fill="#1a1a1a" stroke="#1a1a1a" stroke-width="0.2">***</text>
<circle cx="81.00" cy="201.24" r="0.55" fill="none" stroke="#66bb66" stroke-width="0.5" opacity="0.62"/>
<circle cx="81.46" cy="200.68" r="0.55" fill="none" stroke="#66bb66" stroke-width="0.5" opacity="0.62"/>
<circle cx="81.92" cy="202.36" r="0.55" fill="none" stroke="#66bb66" stroke-width="0.5" opacity="0.62"/>
<circle cx="82.64" cy="202.67" r="0.55" fill="none" stroke="#66bb66" stroke-width="0.5" opacity="0.62"/>
<circle cx="81.72" cy="196.36" r="0.55" fill="none" stroke="#66bb66" stroke-width="0.5" opacity="0.62"/>
<circle cx="83.36" cy="207.79" r="0.55" fill="none" stroke="#66bb66" stroke-width="0.5" opacity="0.62"/>
<circle cx="80.98" cy="201.24" r="0.55" fill="none" stroke="#66bb66" stroke-width="0.5" opacity="0.62"/>
<circle cx="83.09" cy="204.17" r="0.55" fill="none" stroke="#66bb66" stroke-width="0.5" opacity="0.62"/>
<circle cx="82.51" cy="199.23" r="0.55" fill="none" stroke="#66bb66" stroke-width="0.5" opacity="0.62"/>
<circle cx="82.18" cy="203.93" r="0.55" fill="none" stroke="#66bb66" stroke-width="0.5" opacity="0.62"/>
<circle cx="81.23" cy="196.57" r="0.55" fill="none" stroke="#66bb66" stroke-width="0.5" opacity="0.62"/>
<circle cx="81.27" cy="201.27" r="0.55" fill="none" stroke="#66bb66" stroke-width="0.5" opacity="0.62"/>
<path d="M85.94,191.66L86.64,190.56L87.34,191.66Z" fill="none" stroke="#e0506e" stroke-width="0.5" opacity="0.68"/>
<path d="M84.10,185.27L84.80,184.17L85.50,185.27Z" fill="none" stroke="#e0506e" stroke-width="0.5" opacity="0.68"/>
<path d="M85.71,197.14L86.41,196.04L87.11,197.14Z" fill="none" stroke="#e0506e" stroke-width="0.5" opacity="0.68"/>
<path d="M84.64,188.10L85.34,187.00L86.04,188.10Z" fill="none" stroke="#e0506e" stroke-width="0.5" opacity="0.68"/>
<path d="M83.82,184.55L84.52,183.45L85.22,184.55Z" fill="none" stroke="#e0506e" stroke-width="0.5" opacity="0.68"/>
<path d="M84.00,197.06L84.70,195.96L85.40,197.06Z" fill="none" stroke="#e0506e" stroke-width="0.5" opacity="0.68"/>
<path d="M84.73,193.00L85.43,191.90L86.13,193.00Z" fill="none" stroke="#e0506e" stroke-width="0.5" opacity="0.68"/>
<path d="M84.77,193.96L85.47,192.86L86.17,193.96Z" fill="none" stroke="#e0506e" stroke-width="0.5" opacity="0.68"/>
<path d="M85.55,190.28L86.25,189.18L86.95,190.28Z" fill="none" stroke="#e0506e" stroke-width="0.5" opacity="0.68"/>
<path d="M83.98,194.15L84.68,193.05L85.38,194.15Z" fill="none" stroke="#e0506e" stroke-width="0.5" opacity="0.68"/>
<path d="M84.94,188.73L85.64,187.63L86.34,188.73Z" fill="none" stroke="#e0506e" stroke-width="0.5" opacity="0.68"/>
<path d="M85.59,186.15L86.29,185.05L86.99,186.15Z" fill="none" stroke="#e0506e" stroke-width="0.5" opacity="0.68"/>
<rect x="80.97" y="201.30" width="2.4" height="1.4" fill="#1e3a1e"/>
<rect x="84.52" y="190.30" width="2.2" height="1.4" fill="#8a1830"/>
<path d="M80.92,180.00L80.92,177.90Q80.92,177.30 81.52,177.30L85.22,177.30Q85.82,177.30 85.82,177.90L85.82,180.00" fill="none" stroke="#222" stroke-width="0.75"/>
<text x="83.37" y="179.08" font-size="4.7" font-weight="bold" text-anchor="middle" fill="#1a1a1a" stroke="#1a1a1a" stroke-width="0.2">***</text>
<circle cx="92.53" cy="203.48" r="0.55" fill="none" stroke="#66bb66" stroke-width="0.5" opacity="0.62"/>
<circle cx="92.21" cy="197.50" r="0.55" fill="none" stroke="#66bb66" stroke-width="0.5" opacity="0.62"/>
<circle cx="92.45" cy="195.84" r="0.55" fill="none" stroke="#66bb66" stroke-width="0.5" opacity="0.62"/>
<circle cx="91.09" cy="201.33" r="0.55" fill="none" stroke="#66bb66" stroke-width="0.5" opacity="0.62"/>
<circle cx="92.21" cy="202.81" r="0.55" fill="none" stroke="#66bb66" stroke-width="0.5" opacity="0.62"/>
<circle cx="90.88" cy="200.72" r="0.55" fill="none" stroke="#66bb66" stroke-width="0.5" opacity="0.62"/>
<circle cx="90.64" cy="202.26" r="0.55" fill="none" stroke="#66bb66" stroke-width="0.5" opacity="0.62"/>
<circle cx="92.13" cy="202.19" r="0.55" fill="none" stroke="#66bb66" stroke-width="0.5" opacity="0.62"/>
<circle cx="92.35" cy="199.91" r="0.55" fill="none" stroke="#66bb66" stroke-width="0.5" opacity="0.62"/>
<circle cx="92.63" cy="201.87" r="0.55" fill="none" stroke="#66bb66" stroke-width="0.5" opacity="0.62"/>
<circle cx="92.63" cy="202.74" r="0.55" fill="none" stroke="#66bb66" stroke-width="0.5" opacity="0.62"/>
<circle cx="90.67" cy="203.92" r="0.55" fill="none" stroke="#66bb66" stroke-width="0.5" opacity="0.62"/>
<path d="M94.53,191.88L95.23,190.78L95.93,191.88Z" fill="none" stroke="#e0506e" stroke-width="0.5" opacity="0.68"/>
<path d="M93.00,192.24L93.70,191.14L94.40,192.24Z" fill="none" stroke="#e0506e" stroke-width="0.5" opacity="0.68"/>
<path d="M94.23,188.35L94.93,187.25L95.63,188.35Z" fill="none" stroke="#e0506e" stroke-width="0.5" opacity="0.68"/>
<path d="M93.05,194.72L93.75,193.62L94.45,194.72Z" fill="none" stroke="#e0506e" stroke-width="0.5" opacity="0.68"/>
<path d="M93.54,188.86L94.24,187.76L94.94,188.86Z" fill="none" stroke="#e0506e" stroke-width="0.5" opacity="0.68"/>
<path d="M94.14,194.49L94.84,193.39L95.54,194.49Z" fill="none" stroke="#e0506e" stroke-width="0.5" opacity="0.68"/>
<path d="M93.23,190.11L93.93,189.01L94.63,190.11Z" fill="none" stroke="#e0506e" stroke-width="0.5" opacity="0.68"/>
<path d="M93.63,192.84L94.33,191.74L95.03,192.84Z" fill="none" stroke="#e0506e" stroke-width="0.5" opacity="0.68"/>
<path d="M94.55,188.91L95.25,187.81L95.95,188.91Z" fill="none" stroke="#e0506e" stroke-width="0.5" opacity="0.68"/>
<path d="M95.17,189.55L95.87,188.45L96.57,189.55Z" fill="none" stroke="#e0506e" stroke-width="0.5" opacity="0.68"/>
<path d="M93.14,189.62L93.84,188.52L94.54,189.62Z" fill="none" stroke="#e0506e" stroke-width="0.5" opacity="0.68"/>
<path d="M93.34,197.17L94.04,196.07L94.74,197.17Z" fill="none" stroke="#e0506e" stroke-width="0.5" opacity="0.68"/>
<rect x="90.25" y="200.80" width="2.4" height="1.4" fill="#1e3a1e"/>
<rect x="93.80" y="189.50" width="2.2" height="1.4" fill="#8a1830"/>
<path d="M90.20,183.40L90.20,180.70Q90.20,180.10 90.80,180.10L94.50,180.10Q95.10,180.10 95.10,180.70L95.10,183.40" fill="none" stroke="#222" stroke-width="0.75"/>
<text x="92.65" y="181.88" font-size="4.7" font-weight="bold" text-anchor="middle" fill="#1a1a1a" stroke="#1a1a1a" stroke-width="0.2">***</text>
<circle cx="101.48" cy="198.75" r="0.55" fill="none" stroke="#66bb66" stroke-width="0.5" opacity="0.62"/>
<circle cx="101.66" cy="200.92" r="0.55" fill="none" stroke="#66bb66" stroke-width="0.5" opacity="0.62"/>
<circle cx="101.32" cy="208.22" r="0.55" fill="none" stroke="#66bb66" stroke-width="0.5" opacity="0.62"/>
<circle cx="99.78" cy="200.42" r="0.55" fill="none" stroke="#66bb66" stroke-width="0.5" opacity="0.62"/>
<circle cx="101.20" cy="198.25" r="0.55" fill="none" stroke="#66bb66" stroke-width="0.5" opacity="0.62"/>
<circle cx="100.58" cy="205.17" r="0.55" fill="none" stroke="#66bb66" stroke-width="0.5" opacity="0.62"/>
<circle cx="101.85" cy="206.06" r="0.55" fill="none" stroke="#66bb66" stroke-width="0.5" opacity="0.62"/>
<circle cx="100.10" cy="200.30" r="0.55" fill="none" stroke="#66bb66" stroke-width="0.5" opacity="0.62"/>
<circle cx="101.64" cy="203.10" r="0.55" fill="none" stroke="#66bb66" stroke-width="0.5" opacity="0.62"/>
<circle cx="101.19" cy="198.80" r="0.55" fill="none" stroke="#66bb66" stroke-width="0.5" opacity="0.62"/>
<circle cx="101.20" cy="208.17" r="0.55" fill="none" stroke="#66bb66" stroke-width="0.5" opacity="0.62"/>
<circle cx="100.27" cy="205.34" r="0.55" fill="none" stroke="#66bb66" stroke-width="0.5" opacity="0.62"/>
<path d="M102.63,189.57L103.33,188.47L104.03,189.57Z" fill="none" stroke="#e0506e" stroke-width="0.5" opacity="0.68"/>
<path d="M102.62,192.75L103.32,191.65L104.02,192.75Z" fill="none" stroke="#e0506e" stroke-width="0.5" opacity="0.68"/>
<path d="M103.95,191.24L104.65,190.14L105.35,191.24Z" fill="none" stroke="#e0506e" stroke-width="0.5" opacity="0.68"/>
<path d="M104.24,195.34L104.94,194.24L105.64,195.34Z" fill="none" stroke="#e0506e" stroke-width="0.5" opacity="0.68"/>
<path d="M104.47,198.16L105.17,197.06L105.87,198.16Z" fill="none" stroke="#e0506e" stroke-width="0.5" opacity="0.68"/>
<path d="M102.36,194.29L103.06,193.19L103.76,194.29Z" fill="none" stroke="#e0506e" stroke-width="0.5" opacity="0.68"/>
<path d="M103.80,197.89L104.50,196.79L105.20,197.89Z" fill="none" stroke="#e0506e" stroke-width="0.5" opacity="0.68"/>
<path d="M102.77,190.52L103.47,189.42L104.17,190.52Z" fill="none" stroke="#e0506e" stroke-width="0.5" opacity="0.68"/>
<path d="M102.96,193.15L103.66,192.05L104.36,193.15Z" fill="none" stroke="#e0506e" stroke-width="0.5" opacity="0.68"/>
<path d="M103.49,198.77L104.19,197.67L104.89,198.77Z" fill="none" stroke="#e0506e" stroke-width="0.5" opacity="0.68"/>
<path d="M103.33,195.58L104.03,194.48L104.73,195.58Z" fill="none" stroke="#e0506e" stroke-width="0.5" opacity="0.68"/>
<path d="M102.80,196.23L103.50,195.13L104.20,196.23Z" fill="none" stroke="#e0506e" stroke-width="0.5" opacity="0.68"/>
<rect x="99.53" y="200.30" width="2.4" height="1.4" fill="#1e3a1e"/>
<rect x="103.08" y="192.80" width="2.2" height="1.4" fill="#8a1830"/>
<path d="M99.48,187.30L99.48,185.00Q99.48,184.40 100.08,184.40L103.78,184.40Q104.38,184.40 104.38,185.00L104.38,187.30" fill="none" stroke="#222" stroke-width="0.75"/>
<text x="101.93" y="186.18" font-size="4.7" font-weight="bold" text-anchor="middle" fill="#1a1a1a" stroke="#1a1a1a" stroke-width="0.2">***</text>
<circle cx="108.81" cy="202.40" r="0.55" fill="none" stroke="#66bb66" stroke-width="0.5" opacity="0.62"/>
<circle cx="109.99" cy="201.50" r="0.55" fill="none" stroke="#66bb66" stroke-width="0.5" opacity="0.62"/>
<circle cx="109.64" cy="199.90" r="0.55" fill="none" stroke="#66bb66" stroke-width="0.5" opacity="0.62"/>
<circle cx="109.33" cy="203.25" r="0.55" fill="none" stroke="#66bb66" stroke-width="0.5" opacity="0.62"/>
<circle cx="109.00" cy="206.50" r="0.55" fill="none" stroke="#66bb66" stroke-width="0.5" opacity="0.62"/>
<circle cx="109.66" cy="206.42" r="0.55" fill="none" stroke="#66bb66" stroke-width="0.5" opacity="0.62"/>
<circle cx="110.94" cy="201.33" r="0.55" fill="none" stroke="#66bb66" stroke-width="0.5" opacity="0.62"/>
<circle cx="110.01" cy="198.01" r="0.55" fill="none" stroke="#66bb66" stroke-width="0.5" opacity="0.62"/>
<circle cx="110.09" cy="200.04" r="0.55" fill="none" stroke="#66bb66" stroke-width="0.5" opacity="0.62"/>
<circle cx="109.59" cy="203.79" r="0.55" fill="none" stroke="#66bb66" stroke-width="0.5" opacity="0.62"/>
<circle cx="109.22" cy="198.79" r="0.55" fill="none" stroke="#66bb66" stroke-width="0.5" opacity="0.62"/>
<circle cx="109.92" cy="201.23" r="0.55" fill="none" stroke="#66bb66" stroke-width="0.5" opacity="0.62"/>
<path d="M113.25,195.05L113.95,193.95L114.65,195.05Z" fill="none" stroke="#e0506e" stroke-width="0.5" opacity="0.68"/>
<path d="M112.34,194.81L113.04,193.71L113.74,194.81Z" fill="none" stroke="#e0506e" stroke-width="0.5" opacity="0.68"/>
<path d="M113.90,194.57L114.60,193.47L115.30,194.57Z" fill="none" stroke="#e0506e" stroke-width="0.5" opacity="0.68"/>
<path d="M112.48,194.26L113.18,193.16L113.88,194.26Z" fill="none" stroke="#e0506e" stroke-width="0.5" opacity="0.68"/>
<path d="M112.03,195.69L112.73,194.59L113.43,195.69Z" fill="none" stroke="#e0506e" stroke-width="0.5" opacity="0.68"/>
<path d="M111.64,195.46L112.34,194.36L113.04,195.46Z" fill="none" stroke="#e0506e" stroke-width="0.5" opacity="0.68"/>
<path d="M113.08,191.97L113.78,190.87L114.48,191.97Z" fill="none" stroke="#e0506e" stroke-width="0.5" opacity="0.68"/>
<path d="M113.34,192.46L114.04,191.36L114.74,192.46Z" fill="none" stroke="#e0506e" stroke-width="0.5" opacity="0.68"/>
<path d="M112.57,197.43L113.27,196.33L113.97,197.43Z" fill="none" stroke="#e0506e" stroke-width="0.5" opacity="0.68"/>
<path d="M113.24,190.42L113.94,189.32L114.64,190.42Z" fill="none" stroke="#e0506e" stroke-width="0.5" opacity="0.68"/>
<path d="M112.31,195.79L113.01,194.69L113.71,195.79Z" fill="none" stroke="#e0506e" stroke-width="0.5" opacity="0.68"/>
<path d="M113.27,197.63L113.97,196.53L114.67,197.63Z" fill="none" stroke="#e0506e" stroke-width="0.5" opacity="0.68"/>
<rect x="108.81" y="200.80" width="2.4" height="1.4" fill="#1e3a1e"/>
<rect x="112.36" y="192.80" width="2.2" height="1.4" fill="#8a1830"/>
<path d="M108.76,188.50L108.76,186.50Q108.76,185.90 109.36,185.90L113.06,185.90Q113.66,185.90 113.66,186.50L113.66,188.50" fill="none" stroke="#222" stroke-width="0.75"/>
<text x="111.21" y="187.68" font-size="4.7" font-weight="bold" text-anchor="middle" fill="#1a1a1a" stroke="#1a1a1a" stroke-width="0.2">***</text>
<circle cx="119.58" cy="204.74" r="0.55" fill="none" stroke="#66bb66" stroke-width="0.5" opacity="0.62"/>
<circle cx="119.66" cy="201.06" r="0.55" fill="none" stroke="#66bb66" stroke-width="0.5" opacity="0.62"/>
<circle cx="118.18" cy="210.20" r="0.55" fill="none" stroke="#66bb66" stroke-width="0.5" opacity="0.62"/>
<circle cx="119.34" cy="209.81" r="0.55" fill="none" stroke="#66bb66" stroke-width="0.5" opacity="0.62"/>
<circle cx="119.32" cy="198.90" r="0.55" fill="none" stroke="#66bb66" stroke-width="0.5" opacity="0.62"/>
<circle cx="120.37" cy="204.33" r="0.55" fill="none" stroke="#66bb66" stroke-width="0.5" opacity="0.62"/>
<circle cx="118.38" cy="198.69" r="0.55" fill="none" stroke="#66bb66" stroke-width="0.5" opacity="0.62"/>
<circle cx="119.05" cy="203.18" r="0.55" fill="none" stroke="#66bb66" stroke-width="0.5" opacity="0.62"/>
<circle cx="118.94" cy="198.99" r="0.55" fill="none" stroke="#66bb66" stroke-width="0.5" opacity="0.62"/>
<circle cx="119.35" cy="197.81" r="0.55" fill="none" stroke="#66bb66" stroke-width="0.5" opacity="0.62"/>
<circle cx="118.40" cy="200.97" r="0.55" fill="none" stroke="#66bb66" stroke-width="0.5" opacity="0.62"/>
<circle cx="119.44" cy="204.86" r="0.55" fill="none" stroke="#66bb66" stroke-width="0.5" opacity="0.62"/>
<path d="M122.80,190.21L123.50,189.11L124.20,190.21Z" fill="none" stroke="#e0506e" stroke-width="0.5" opacity="0.68"/>
<path d="M121.14,195.29L121.84,194.19L122.54,195.29Z" fill="none" stroke="#e0506e" stroke-width="0.5" opacity="0.68"/>
<path d="M121.74,193.90L122.44,192.80L123.14,193.90Z" fill="none" stroke="#e0506e" stroke-width="0.5" opacity="0.68"/>
<path d="M122.57,193.00L123.27,191.90L123.97,193.00Z" fill="none" stroke="#e0506e" stroke-width="0.5" opacity="0.68"/>
<path d="M121.87,191.08L122.57,189.98L123.27,191.08Z" fill="none" stroke="#e0506e" stroke-width="0.5" opacity="0.68"/>
<path d="M122.89,197.54L123.59,196.44L124.29,197.54Z" fill="none" stroke="#e0506e" stroke-width="0.5" opacity="0.68"/>
<path d="M121.18,189.36L121.88,188.26L122.58,189.36Z" fill="none" stroke="#e0506e" stroke-width="0.5" opacity="0.68"/>
<path d="M123.12,193.02L123.82,191.92L124.52,193.02Z" fill="none" stroke="#e0506e" stroke-width="0.5" opacity="0.68"/>
<path d="M121.40,193.40L122.10,192.30L122.80,193.40Z" fill="none" stroke="#e0506e" stroke-width="0.5" opacity="0.68"/>
<path d="M122.74,197.39L123.44,196.29L124.14,197.39Z" fill="none" stroke="#e0506e" stroke-width="0.5" opacity="0.68"/>
<path d="M122.44,189.37L123.14,188.27L123.84,189.37Z" fill="none" stroke="#e0506e" stroke-width="0.5" opacity="0.68"/>
<path d="M122.50,193.61L123.20,192.51L123.90,193.61Z" fill="none" stroke="#e0506e" stroke-width="0.5" opacity="0.68"/>
<rect x="118.09" y="200.80" width="2.4" height="1.4" fill="#1e3a1e"/>
<rect x="121.64" y="191.80" width="2.2" height="1.4" fill="#8a1830"/>
<path d="M118.04,181.40L118.04,178.90Q118.04,178.30 118.64,178.30L122.34,178.30Q122.94,178.30 122.94,178.90L122.94,181.40" fill="none" stroke="#222" stroke-width="0.75"/>
<text x="120.49" y="180.08" font-size="4.7" font-weight="bold" text-anchor="middle" fill="#1a1a1a" stroke="#1a1a1a" stroke-width="0.2">***</text>
<circle cx="128.70" cy="209.15" r="0.55" fill="none" stroke="#66bb66" stroke-width="0.5" opacity="0.62"/>
<circle cx="127.51" cy="199.90" r="0.55" fill="none" stroke="#66bb66" stroke-width="0.5" opacity="0.62"/>
<circle cx="128.66" cy="199.88" r="0.55" fill="none" stroke="#66bb66" stroke-width="0.5" opacity="0.62"/>
<circle cx="128.72" cy="204.85" r="0.55" fill="none" stroke="#66bb66" stroke-width="0.5" opacity="0.62"/>
<circle cx="129.68" cy="204.40" r="0.55" fill="none" stroke="#66bb66" stroke-width="0.5" opacity="0.62"/>
<circle cx="128.83" cy="201.46" r="0.55" fill="none" stroke="#66bb66" stroke-width="0.5" opacity="0.62"/>
<circle cx="128.60" cy="210.29" r="0.55" fill="none" stroke="#66bb66" stroke-width="0.5" opacity="0.62"/>
<circle cx="128.87" cy="198.90" r="0.55" fill="none" stroke="#66bb66" stroke-width="0.5" opacity="0.62"/>
<circle cx="128.63" cy="199.98" r="0.55" fill="none" stroke="#66bb66" stroke-width="0.5" opacity="0.62"/>
<circle cx="128.70" cy="204.44" r="0.55" fill="none" stroke="#66bb66" stroke-width="0.5" opacity="0.62"/>
<circle cx="128.58" cy="204.27" r="0.55" fill="none" stroke="#66bb66" stroke-width="0.5" opacity="0.62"/>
<circle cx="129.27" cy="199.19" r="0.55" fill="none" stroke="#66bb66" stroke-width="0.5" opacity="0.62"/>
<path d="M131.64,193.00L132.34,191.90L133.04,193.00Z" fill="none" stroke="#e0506e" stroke-width="0.5" opacity="0.68"/>
<path d="M131.43,199.77L132.13,198.67L132.83,199.77Z" fill="none" stroke="#e0506e" stroke-width="0.5" opacity="0.68"/>
<path d="M132.33,194.92L133.03,193.82L133.73,194.92Z" fill="none" stroke="#e0506e" stroke-width="0.5" opacity="0.68"/>
<path d="M131.59,199.92L132.29,198.82L132.99,199.92Z" fill="none" stroke="#e0506e" stroke-width="0.5" opacity="0.68"/>
<path d="M131.75,198.05L132.45,196.95L133.15,198.05Z" fill="none" stroke="#e0506e" stroke-width="0.5" opacity="0.68"/>
<path d="M130.36,191.98L131.06,190.88L131.76,191.98Z" fill="none" stroke="#e0506e" stroke-width="0.5" opacity="0.68"/>
<path d="M131.69,191.05L132.39,189.95L133.09,191.05Z" fill="none" stroke="#e0506e" stroke-width="0.5" opacity="0.68"/>
<path d="M130.74,193.14L131.44,192.04L132.14,193.14Z" fill="none" stroke="#e0506e" stroke-width="0.5" opacity="0.68"/>
<path d="M131.66,193.83L132.36,192.73L133.06,193.83Z" fill="none" stroke="#e0506e" stroke-width="0.5" opacity="0.68"/>
<path d="M130.41,195.57L131.11,194.47L131.81,195.57Z" fill="none" stroke="#e0506e" stroke-width="0.5" opacity="0.68"/>
<path d="M130.15,197.25L130.85,196.15L131.55,197.25Z" fill="none" stroke="#e0506e" stroke-width="0.5" opacity="0.68"/>
<path d="M131.26,190.62L131.96,189.52L132.66,190.62Z" fill="none" stroke="#e0506e" stroke-width="0.5" opacity="0.68"/>
<rect x="127.37" y="200.80" width="2.4" height="1.4" fill="#1e3a1e"/>
<rect x="130.92" y="194.30" width="2.2" height="1.4" fill="#8a1830"/>
<path d="M127.32,186.80L127.32,184.20Q127.32,183.60 127.92,183.60L131.62,183.60Q132.22,183.60 132.22,184.20L132.22,186.80" fill="none" stroke="#222" stroke-width="0.75"/>
<text x="129.77" y="185.38" font-size="4.7" font-weight="bold" text-anchor="middle" fill="#1a1a1a" stroke="#1a1a1a" stroke-width="0.2">***</text>
<circle cx="137.01" cy="200.77" r="0.55" fill="none" stroke="#66bb66" stroke-width="0.5" opacity="0.62"/>
<circle cx="138.97" cy="201.04" r="0.55" fill="none" stroke="#66bb66" stroke-width="0.5" opacity="0.62"/>
<circle cx="138.38" cy="201.28" r="0.55" fill="none" stroke="#66bb66" stroke-width="0.5" opacity="0.62"/>
<circle cx="138.51" cy="201.22" r="0.55" fill="none" stroke="#66bb66" stroke-width="0.5" opacity="0.62"/>
<circle cx="138.16" cy="201.66" r="0.55" fill="none" stroke="#66bb66" stroke-width="0.5" opacity="0.62"/>
<circle cx="138.96" cy="202.82" r="0.55" fill="none" stroke="#66bb66" stroke-width="0.5" opacity="0.62"/>
<circle cx="138.61" cy="206.45" r="0.55" fill="none" stroke="#66bb66" stroke-width="0.5" opacity="0.62"/>
<circle cx="138.72" cy="200.91" r="0.55" fill="none" stroke="#66bb66" stroke-width="0.5" opacity="0.62"/>
<circle cx="137.70" cy="199.35" r="0.55" fill="none" stroke="#66bb66" stroke-width="0.5" opacity="0.62"/>
<circle cx="138.20" cy="203.71" r="0.55" fill="none" stroke="#66bb66" stroke-width="0.5" opacity="0.62"/>
<circle cx="138.92" cy="207.88" r="0.55" fill="none" stroke="#66bb66" stroke-width="0.5" opacity="0.62"/>
<circle cx="138.99" cy="201.54" r="0.55" fill="none" stroke="#66bb66" stroke-width="0.5" opacity="0.62"/>
<path d="M141.75,198.11L142.45,197.01L143.15,198.11Z" fill="none" stroke="#e0506e" stroke-width="0.5" opacity="0.68"/>
<path d="M141.53,197.16L142.23,196.06L142.93,197.16Z" fill="none" stroke="#e0506e" stroke-width="0.5" opacity="0.68"/>
<path d="M141.34,191.16L142.04,190.06L142.74,191.16Z" fill="none" stroke="#e0506e" stroke-width="0.5" opacity="0.68"/>
<path d="M140.81,193.87L141.51,192.77L142.21,193.87Z" fill="none" stroke="#e0506e" stroke-width="0.5" opacity="0.68"/>
<path d="M141.35,199.44L142.05,198.34L142.75,199.44Z" fill="none" stroke="#e0506e" stroke-width="0.5" opacity="0.68"/>
<path d="M141.34,199.56L142.04,198.46L142.74,199.56Z" fill="none" stroke="#e0506e" stroke-width="0.5" opacity="0.68"/>
<path d="M140.73,195.70L141.43,194.60L142.13,195.70Z" fill="none" stroke="#e0506e" stroke-width="0.5" opacity="0.68"/>
<path d="M139.96,200.06L140.66,198.96L141.36,200.06Z" fill="none" stroke="#e0506e" stroke-width="0.5" opacity="0.68"/>
<path d="M140.01,196.14L140.71,195.04L141.41,196.14Z" fill="none" stroke="#e0506e" stroke-width="0.5" opacity="0.68"/>
<path d="M141.34,195.71L142.04,194.61L142.74,195.71Z" fill="none" stroke="#e0506e" stroke-width="0.5" opacity="0.68"/>
<path d="M141.52,199.84L142.22,198.74L142.92,199.84Z" fill="none" stroke="#e0506e" stroke-width="0.5" opacity="0.68"/>
<path d="M139.86,196.07L140.56,194.97L141.26,196.07Z" fill="none" stroke="#e0506e" stroke-width="0.5" opacity="0.68"/>
<rect x="136.65" y="200.60" width="2.4" height="1.4" fill="#1e3a1e"/>
<rect x="140.20" y="194.30" width="2.2" height="1.4" fill="#8a1830"/>
<path d="M136.60,186.80L136.60,184.20Q136.60,183.60 137.20,183.60L140.90,183.60Q141.50,183.60 141.50,184.20L141.50,186.80" fill="none" stroke="#222" stroke-width="0.75"/>
<text x="139.05" y="185.38" font-size="4.7" font-weight="bold" text-anchor="middle" fill="#1a1a1a" stroke="#1a1a1a" stroke-width="0.2">***</text>
<circle cx="146.90" cy="199.40" r="0.55" fill="none" stroke="#66bb66" stroke-width="0.5" opacity="0.62"/>
<circle cx="146.83" cy="210.27" r="0.55" fill="none" stroke="#66bb66" stroke-width="0.5" opacity="0.62"/>
<circle cx="147.36" cy="200.94" r="0.55" fill="none" stroke="#66bb66" stroke-width="0.5" opacity="0.62"/>
<circle cx="148.31" cy="201.25" r="0.55" fill="none" stroke="#66bb66" stroke-width="0.5" opacity="0.62"/>
<circle cx="147.80" cy="202.87" r="0.55" fill="none" stroke="#66bb66" stroke-width="0.5" opacity="0.62"/>
<circle cx="148.24" cy="198.22" r="0.55" fill="none" stroke="#66bb66" stroke-width="0.5" opacity="0.62"/>
<circle cx="146.13" cy="200.87" r="0.55" fill="none" stroke="#66bb66" stroke-width="0.5" opacity="0.62"/>
<circle cx="148.20" cy="199.85" r="0.55" fill="none" stroke="#66bb66" stroke-width="0.5" opacity="0.62"/>
<circle cx="146.22" cy="204.01" r="0.55" fill="none" stroke="#66bb66" stroke-width="0.5" opacity="0.62"/>
<circle cx="148.23" cy="206.34" r="0.55" fill="none" stroke="#66bb66" stroke-width="0.5" opacity="0.62"/>
<circle cx="148.25" cy="202.13" r="0.55" fill="none" stroke="#66bb66" stroke-width="0.5" opacity="0.62"/>
<circle cx="146.77" cy="202.83" r="0.55" fill="none" stroke="#66bb66" stroke-width="0.5" opacity="0.62"/>
<path d="M150.57,196.09L151.27,194.99L151.97,196.09Z" fill="none" stroke="#e0506e" stroke-width="0.5" opacity="0.68"/>
<path d="M149.03,196.12L149.73,195.02L150.43,196.12Z" fill="none" stroke="#e0506e" stroke-width="0.5" opacity="0.68"/>
<path d="M150.10,197.04L150.80,195.94L151.50,197.04Z" fill="none" stroke="#e0506e" stroke-width="0.5" opacity="0.68"/>
<path d="M148.98,196.85L149.68,195.75L150.38,196.85Z" fill="none" stroke="#e0506e" stroke-width="0.5" opacity="0.68"/>
<path d="M150.31,195.60L151.01,194.50L151.71,195.60Z" fill="none" stroke="#e0506e" stroke-width="0.5" opacity="0.68"/>
<path d="M150.91,195.93L151.61,194.83L152.31,195.93Z" fill="none" stroke="#e0506e" stroke-width="0.5" opacity="0.68"/>
<path d="M149.02,191.71L149.72,190.61L150.42,191.71Z" fill="none" stroke="#e0506e" stroke-width="0.5" opacity="0.68"/>
<path d="M150.19,192.00L150.89,190.90L151.59,192.00Z" fill="none" stroke="#e0506e" stroke-width="0.5" opacity="0.68"/>
<path d="M150.19,194.09L150.89,192.99L151.59,194.09Z" fill="none" stroke="#e0506e" stroke-width="0.5" opacity="0.68"/>
<path d="M150.01,192.77L150.71,191.67L151.41,192.77Z" fill="none" stroke="#e0506e" stroke-width="0.5" opacity="0.68"/>
<path d="M149.05,194.42L149.75,193.32L150.45,194.42Z" fill="none" stroke="#e0506e" stroke-width="0.5" opacity="0.68"/>
<path d="M149.86,195.51L150.56,194.41L151.26,195.51Z" fill="none" stroke="#e0506e" stroke-width="0.5" opacity="0.68"/>
<rect x="145.93" y="200.60" width="2.4" height="1.4" fill="#1e3a1e"/>
<rect x="149.48" y="194.80" width="2.2" height="1.4" fill="#8a1830"/>
<path d="M145.88,186.80L145.88,184.20Q145.88,183.60 146.48,183.60L150.18,183.60Q150.78,183.60 150.78,184.20L150.78,186.80" fill="none" stroke="#222" stroke-width="0.75"/>
<text x="148.33" y="185.38" font-size="4.7" font-weight="bold" text-anchor="middle" fill="#1a1a1a" stroke="#1a1a1a" stroke-width="0.2">***</text>
<circle cx="155.35" cy="198.01" r="0.55" fill="none" stroke="#66bb66" stroke-width="0.5" opacity="0.62"/>
<circle cx="155.90" cy="205.34" r="0.55" fill="none" stroke="#66bb66" stroke-width="0.5" opacity="0.62"/>
<circle cx="157.61" cy="197.95" r="0.55" fill="none" stroke="#66bb66" stroke-width="0.5" opacity="0.62"/>
<circle cx="155.35" cy="209.70" r="0.55" fill="none" stroke="#66bb66" stroke-width="0.5" opacity="0.62"/>
<circle cx="157.15" cy="201.94" r="0.55" fill="none" stroke="#66bb66" stroke-width="0.5" opacity="0.62"/>
<circle cx="156.47" cy="198.75" r="0.55" fill="none" stroke="#66bb66" stroke-width="0.5" opacity="0.62"/>
<circle cx="156.58" cy="201.35" r="0.55" fill="none" stroke="#66bb66" stroke-width="0.5" opacity="0.62"/>
<circle cx="155.68" cy="199.33" r="0.55" fill="none" stroke="#66bb66" stroke-width="0.5" opacity="0.62"/>
<circle cx="155.87" cy="200.29" r="0.55" fill="none" stroke="#66bb66" stroke-width="0.5" opacity="0.62"/>
<circle cx="156.61" cy="198.85" r="0.55" fill="none" stroke="#66bb66" stroke-width="0.5" opacity="0.62"/>
<circle cx="156.94" cy="200.65" r="0.55" fill="none" stroke="#66bb66" stroke-width="0.5" opacity="0.62"/>
<circle cx="157.28" cy="198.70" r="0.55" fill="none" stroke="#66bb66" stroke-width="0.5" opacity="0.62"/>
<path d="M160.05,197.59L160.75,196.49L161.45,197.59Z" fill="none" stroke="#e0506e" stroke-width="0.5" opacity="0.68"/>
<path d="M158.35,198.14L159.05,197.04L159.75,198.14Z" fill="none" stroke="#e0506e" stroke-width="0.5" opacity="0.68"/>
<path d="M159.03,197.36L159.73,196.26L160.43,197.36Z" fill="none" stroke="#e0506e" stroke-width="0.5" opacity="0.68"/>
<path d="M160.04,203.34L160.74,202.24L161.44,203.34Z" fill="none" stroke="#e0506e" stroke-width="0.5" opacity="0.68"/>
<path d="M158.11,196.05L158.81,194.95L159.51,196.05Z" fill="none" stroke="#e0506e" stroke-width="0.5" opacity="0.68"/>
<path d="M159.23,201.60L159.93,200.50L160.63,201.60Z" fill="none" stroke="#e0506e" stroke-width="0.5" opacity="0.68"/>
<path d="M158.40,200.21L159.10,199.11L159.80,200.21Z" fill="none" stroke="#e0506e" stroke-width="0.5" opacity="0.68"/>
<path d="M158.19,199.45L158.89,198.35L159.59,199.45Z" fill="none" stroke="#e0506e" stroke-width="0.5" opacity="0.68"/>
<path d="M159.34,202.07L160.04,200.97L160.74,202.07Z" fill="none" stroke="#e0506e" stroke-width="0.5" opacity="0.68"/>
<path d="M159.68,203.67L160.38,202.57L161.08,203.67Z" fill="none" stroke="#e0506e" stroke-width="0.5" opacity="0.68"/>
<path d="M158.63,197.47L159.33,196.37L160.03,197.47Z" fill="none" stroke="#e0506e" stroke-width="0.5" opacity="0.68"/>
<path d="M160.03,196.97L160.73,195.87L161.43,196.97Z" fill="none" stroke="#e0506e" stroke-width="0.5" opacity="0.68"/>
<rect x="155.21" y="201.20" width="2.4" height="1.4" fill="#1e3a1e"/>
<rect x="158.76" y="198.30" width="2.2" height="1.4" fill="#8a1830"/>
<path d="M155.16,185.70L155.16,183.20Q155.16,182.60 155.76,182.60L159.46,182.60Q160.06,182.60 160.06,183.20L160.06,185.70" fill="none" stroke="#222" stroke-width="0.75"/>
<text x="157.61" y="184.38" font-size="4.7" font-weight="bold" text-anchor="middle" fill="#1a1a1a" stroke="#1a1a1a" stroke-width="0.2">***</text>
<circle cx="166.47" cy="199.72" r="0.55" fill="none" stroke="#66bb66" stroke-width="0.5" opacity="0.62"/>
<circle cx="165.75" cy="207.27" r="0.55" fill="none" stroke="#66bb66" stroke-width="0.5" opacity="0.62"/>
<circle cx="165.07" cy="199.12" r="0.55" fill="none" stroke="#66bb66" stroke-width="0.5" opacity="0.62"/>
<circle cx="166.68" cy="197.09" r="0.55" fill="none" stroke="#66bb66" stroke-width="0.5" opacity="0.62"/>
<circle cx="166.79" cy="203.92" r="0.55" fill="none" stroke="#66bb66" stroke-width="0.5" opacity="0.62"/>
<circle cx="165.36" cy="205.06" r="0.55" fill="none" stroke="#66bb66" stroke-width="0.5" opacity="0.62"/>
<circle cx="164.54" cy="203.80" r="0.55" fill="none" stroke="#66bb66" stroke-width="0.5" opacity="0.62"/>
<circle cx="166.01" cy="196.42" r="0.55" fill="none" stroke="#66bb66" stroke-width="0.5" opacity="0.62"/>
<circle cx="166.03" cy="200.21" r="0.55" fill="none" stroke="#66bb66" stroke-width="0.5" opacity="0.62"/>
<circle cx="166.71" cy="198.29" r="0.55" fill="none" stroke="#66bb66" stroke-width="0.5" opacity="0.62"/>
<circle cx="166.77" cy="203.14" r="0.55" fill="none" stroke="#66bb66" stroke-width="0.5" opacity="0.62"/>
<circle cx="165.92" cy="199.84" r="0.55" fill="none" stroke="#66bb66" stroke-width="0.5" opacity="0.62"/>
<path d="M168.52,200.16L169.22,199.06L169.92,200.16Z" fill="none" stroke="#e0506e" stroke-width="0.5" opacity="0.68"/>
<path d="M168.22,197.28L168.92,196.18L169.62,197.28Z" fill="none" stroke="#e0506e" stroke-width="0.5" opacity="0.68"/>
<path d="M169.26,196.02L169.96,194.92L170.66,196.02Z" fill="none" stroke="#e0506e" stroke-width="0.5" opacity="0.68"/>
<path d="M168.94,198.92L169.64,197.82L170.34,198.92Z" fill="none" stroke="#e0506e" stroke-width="0.5" opacity="0.68"/>
<path d="M167.99,196.43L168.69,195.33L169.39,196.43Z" fill="none" stroke="#e0506e" stroke-width="0.5" opacity="0.68"/>
<path d="M168.65,196.86L169.35,195.76L170.05,196.86Z" fill="none" stroke="#e0506e" stroke-width="0.5" opacity="0.68"/>
<path d="M168.58,197.52L169.28,196.42L169.98,197.52Z" fill="none" stroke="#e0506e" stroke-width="0.5" opacity="0.68"/>
<path d="M169.09,197.28L169.79,196.18L170.49,197.28Z" fill="none" stroke="#e0506e" stroke-width="0.5" opacity="0.68"/>
<path d="M167.39,196.58L168.09,195.48L168.79,196.58Z" fill="none" stroke="#e0506e" stroke-width="0.5" opacity="0.68"/>
<path d="M167.78,198.02L168.48,196.92L169.18,198.02Z" fill="none" stroke="#e0506e" stroke-width="0.5" opacity="0.68"/>
<path d="M168.09,199.52L168.79,198.42L169.49,199.52Z" fill="none" stroke="#e0506e" stroke-width="0.5" opacity="0.68"/>
<path d="M168.48,202.17L169.18,201.07L169.88,202.17Z" fill="none" stroke="#e0506e" stroke-width="0.5" opacity="0.68"/>
<rect x="164.49" y="199.40" width="2.4" height="1.4" fill="#1e3a1e"/>
<rect x="168.04" y="197.10" width="2.2" height="1.4" fill="#8a1830"/>
<path d="M164.44,187.60L164.44,185.50Q164.44,184.90 165.04,184.90L168.74,184.90Q169.34,184.90 169.34,185.50L169.34,187.60" fill="none" stroke="#222" stroke-width="0.75"/>
<text x="166.89" y="186.68" font-size="4.7" font-weight="bold" text-anchor="middle" fill="#1a1a1a" stroke="#1a1a1a" stroke-width="0.2">***</text>
<circle cx="175.65" cy="204.12" r="0.55" fill="none" stroke="#66bb66" stroke-width="0.5" opacity="0.62"/>
<circle cx="173.78" cy="208.22" r="0.55" fill="none" stroke="#66bb66" stroke-width="0.5" opacity="0.62"/>
<circle cx="175.14" cy="209.27" r="0.55" fill="none" stroke="#66bb66" stroke-width="0.5" opacity="0.62"/>
<circle cx="174.68" cy="198.61" r="0.55" fill="none" stroke="#66bb66" stroke-width="0.5" opacity="0.62"/>
<circle cx="174.71" cy="199.89" r="0.55" fill="none" stroke="#66bb66" stroke-width="0.5" opacity="0.62"/>
<circle cx="175.81" cy="207.29" r="0.55" fill="none" stroke="#66bb66" stroke-width="0.5" opacity="0.62"/>
<circle cx="174.12" cy="199.85" r="0.55" fill="none" stroke="#66bb66" stroke-width="0.5" opacity="0.62"/>
<circle cx="174.55" cy="208.78" r="0.55" fill="none" stroke="#66bb66" stroke-width="0.5" opacity="0.62"/>
<circle cx="174.79" cy="201.84" r="0.55" fill="none" stroke="#66bb66" stroke-width="0.5" opacity="0.62"/>
<circle cx="174.96" cy="204.98" r="0.55" fill="none" stroke="#66bb66" stroke-width="0.5" opacity="0.62"/>
<circle cx="175.01" cy="209.68" r="0.55" fill="none" stroke="#66bb66" stroke-width="0.5" opacity="0.62"/>
<circle cx="175.20" cy="203.07" r="0.55" fill="none" stroke="#66bb66" stroke-width="0.5" opacity="0.62"/>
<path d="M176.76,194.44L177.46,193.34L178.16,194.44Z" fill="none" stroke="#e0506e" stroke-width="0.5" opacity="0.68"/>
<path d="M178.63,194.17L179.33,193.07L180.03,194.17Z" fill="none" stroke="#e0506e" stroke-width="0.5" opacity="0.68"/>
<path d="M178.91,199.31L179.61,198.21L180.31,199.31Z" fill="none" stroke="#e0506e" stroke-width="0.5" opacity="0.68"/>
<path d="M177.28,196.10L177.98,195.00L178.68,196.10Z" fill="none" stroke="#e0506e" stroke-width="0.5" opacity="0.68"/>
<path d="M178.67,196.89L179.37,195.79L180.07,196.89Z" fill="none" stroke="#e0506e" stroke-width="0.5" opacity="0.68"/>
<path d="M177.53,200.89L178.23,199.79L178.93,200.89Z" fill="none" stroke="#e0506e" stroke-width="0.5" opacity="0.68"/>
<path d="M176.97,194.54L177.67,193.44L178.37,194.54Z" fill="none" stroke="#e0506e" stroke-width="0.5" opacity="0.68"/>
<path d="M178.90,195.31L179.60,194.21L180.30,195.31Z" fill="none" stroke="#e0506e" stroke-width="0.5" opacity="0.68"/>
<path d="M177.26,200.27L177.96,199.17L178.66,200.27Z" fill="none" stroke="#e0506e" stroke-width="0.5" opacity="0.68"/>
<path d="M177.93,200.60L178.63,199.50L179.33,200.60Z" fill="none" stroke="#e0506e" stroke-width="0.5" opacity="0.68"/>
<path d="M177.16,198.92L177.86,197.82L178.56,198.92Z" fill="none" stroke="#e0506e" stroke-width="0.5" opacity="0.68"/>
<path d="M177.51,199.03L178.21,197.93L178.91,199.03Z" fill="none" stroke="#e0506e" stroke-width="0.5" opacity="0.68"/>
<rect x="173.77" y="200.00" width="2.4" height="1.4" fill="#1e3a1e"/>
<rect x="177.32" y="195.40" width="2.2" height="1.4" fill="#8a1830"/>
<path d="M173.72,188.40L173.72,185.90Q173.72,185.30 174.32,185.30L178.02,185.30Q178.62,185.30 178.62,185.90L178.62,188.40" fill="none" stroke="#222" stroke-width="0.75"/>
<text x="176.17" y="187.08" font-size="4.7" font-weight="bold" text-anchor="middle" fill="#1a1a1a" stroke="#1a1a1a" stroke-width="0.2">**</text>
<circle cx="183.29" cy="201.68" r="0.55" fill="none" stroke="#66bb66" stroke-width="0.5" opacity="0.62"/>
<circle cx="184.99" cy="199.78" r="0.55" fill="none" stroke="#66bb66" stroke-width="0.5" opacity="0.62"/>
<circle cx="184.77" cy="200.98" r="0.55" fill="none" stroke="#66bb66" stroke-width="0.5" opacity="0.62"/>
<circle cx="185.22" cy="201.70" r="0.55" fill="none" stroke="#66bb66" stroke-width="0.5" opacity="0.62"/>
<circle cx="183.18" cy="204.51" r="0.55" fill="none" stroke="#66bb66" stroke-width="0.5" opacity="0.62"/>
<circle cx="184.54" cy="204.99" r="0.55" fill="none" stroke="#66bb66" stroke-width="0.5" opacity="0.62"/>
<circle cx="183.81" cy="198.64" r="0.55" fill="none" stroke="#66bb66" stroke-width="0.5" opacity="0.62"/>
<circle cx="185.35" cy="206.56" r="0.55" fill="none" stroke="#66bb66" stroke-width="0.5" opacity="0.62"/>
<circle cx="184.77" cy="200.72" r="0.55" fill="none" stroke="#66bb66" stroke-width="0.5" opacity="0.62"/>
<circle cx="184.95" cy="200.34" r="0.55" fill="none" stroke="#66bb66" stroke-width="0.5" opacity="0.62"/>
<circle cx="185.38" cy="201.45" r="0.55" fill="none" stroke="#66bb66" stroke-width="0.5" opacity="0.62"/>
<circle cx="183.98" cy="200.13" r="0.55" fill="none" stroke="#66bb66" stroke-width="0.5" opacity="0.62"/>
<path d="M186.64,193.90L187.34,192.80L188.04,193.90Z" fill="none" stroke="#e0506e" stroke-width="0.5" opacity="0.68"/>
<path d="M185.88,197.03L186.58,195.93L187.28,197.03Z" fill="none" stroke="#e0506e" stroke-width="0.5" opacity="0.68"/>
<path d="M186.02,200.98L186.72,199.88L187.42,200.98Z" fill="none" stroke="#e0506e" stroke-width="0.5" opacity="0.68"/>
<path d="M187.81,196.06L188.51,194.96L189.21,196.06Z" fill="none" stroke="#e0506e" stroke-width="0.5" opacity="0.68"/>
<path d="M186.70,201.08L187.40,199.98L188.10,201.08Z" fill="none" stroke="#e0506e" stroke-width="0.5" opacity="0.68"/>
<path d="M186.35,199.86L187.05,198.76L187.75,199.86Z" fill="none" stroke="#e0506e" stroke-width="0.5" opacity="0.68"/>
<path d="M187.96,196.93L188.66,195.83L189.36,196.93Z" fill="none" stroke="#e0506e" stroke-width="0.5" opacity="0.68"/>
<path d="M186.31,200.42L187.01,199.32L187.71,200.42Z" fill="none" stroke="#e0506e" stroke-width="0.5" opacity="0.68"/>
<path d="M186.45,200.06L187.15,198.96L187.85,200.06Z" fill="none" stroke="#e0506e" stroke-width="0.5" opacity="0.68"/>
<path d="M186.55,200.20L187.25,199.10L187.95,200.20Z" fill="none" stroke="#e0506e" stroke-width="0.5" opacity="0.68"/>
<path d="M186.57,193.75L187.27,192.65L187.97,193.75Z" fill="none" stroke="#e0506e" stroke-width="0.5" opacity="0.68"/>
<path d="M187.00,199.13L187.70,198.03L188.40,199.13Z" fill="none" stroke="#e0506e" stroke-width="0.5" opacity="0.68"/>
<rect x="183.05" y="201.20" width="2.4" height="1.4" fill="#1e3a1e"/>
<rect x="186.60" y="196.60" width="2.2" height="1.4" fill="#8a1830"/>
<path d="M183.00,192.50L183.00,190.50Q183.00,189.90 183.60,189.90L187.30,189.90Q187.90,189.90 187.90,190.50L187.90,192.50" fill="none" stroke="#222" stroke-width="0.75"/>
<text x="185.45" y="191.68" font-size="4.7" font-weight="bold" text-anchor="middle" fill="#1a1a1a" stroke="#1a1a1a" stroke-width="0.2">*</text>
<circle cx="192.63" cy="200.72" r="0.55" fill="none" stroke="#66bb66" stroke-width="0.5" opacity="0.62"/>
<circle cx="194.19" cy="209.25" r="0.55" fill="none" stroke="#66bb66" stroke-width="0.5" opacity="0.62"/>
<circle cx="192.40" cy="202.99" r="0.55" fill="none" stroke="#66bb66" stroke-width="0.5" opacity="0.62"/>
<circle cx="193.91" cy="204.15" r="0.55" fill="none" stroke="#66bb66" stroke-width="0.5" opacity="0.62"/>
<circle cx="193.84" cy="203.62" r="0.55" fill="none" stroke="#66bb66" stroke-width="0.5" opacity="0.62"/>
<circle cx="194.04" cy="198.62" r="0.55" fill="none" stroke="#66bb66" stroke-width="0.5" opacity="0.62"/>
<circle cx="193.06" cy="200.81" r="0.55" fill="none" stroke="#66bb66" stroke-width="0.5" opacity="0.62"/>
<circle cx="192.76" cy="199.07" r="0.55" fill="none" stroke="#66bb66" stroke-width="0.5" opacity="0.62"/>
<circle cx="193.37" cy="202.82" r="0.55" fill="none" stroke="#66bb66" stroke-width="0.5" opacity="0.62"/>
<circle cx="194.19" cy="208.41" r="0.55" fill="none" stroke="#66bb66" stroke-width="0.5" opacity="0.62"/>
<circle cx="192.44" cy="199.21" r="0.55" fill="none" stroke="#66bb66" stroke-width="0.5" opacity="0.62"/>
<circle cx="194.52" cy="200.77" r="0.55" fill="none" stroke="#66bb66" stroke-width="0.5" opacity="0.62"/>
<path d="M196.87,200.39L197.57,199.29L198.27,200.39Z" fill="none" stroke="#e0506e" stroke-width="0.5" opacity="0.68"/>
<path d="M196.10,203.55L196.80,202.45L197.50,203.55Z" fill="none" stroke="#e0506e" stroke-width="0.5" opacity="0.68"/>
<path d="M196.59,202.82L197.29,201.72L197.99,202.82Z" fill="none" stroke="#e0506e" stroke-width="0.5" opacity="0.68"/>
<path d="M196.31,197.24L197.01,196.14L197.71,197.24Z" fill="none" stroke="#e0506e" stroke-width="0.5" opacity="0.68"/>
<path d="M196.77,198.99L197.47,197.89L198.17,198.99Z" fill="none" stroke="#e0506e" stroke-width="0.5" opacity="0.68"/>
<path d="M196.61,203.70L197.31,202.60L198.01,203.70Z" fill="none" stroke="#e0506e" stroke-width="0.5" opacity="0.68"/>
<path d="M196.07,200.21L196.77,199.11L197.47,200.21Z" fill="none" stroke="#e0506e" stroke-width="0.5" opacity="0.68"/>
<path d="M196.69,195.71L197.39,194.61L198.09,195.71Z" fill="none" stroke="#e0506e" stroke-width="0.5" opacity="0.68"/>
<path d="M197.33,197.15L198.03,196.05L198.73,197.15Z" fill="none" stroke="#e0506e" stroke-width="0.5" opacity="0.68"/>
<path d="M196.43,198.51L197.13,197.41L197.83,198.51Z" fill="none" stroke="#e0506e" stroke-width="0.5" opacity="0.68"/>
<path d="M195.49,195.40L196.19,194.30L196.89,195.40Z" fill="none" stroke="#e0506e" stroke-width="0.5" opacity="0.68"/>
<path d="M197.07,202.44L197.77,201.34L198.47,202.44Z" fill="none" stroke="#e0506e" stroke-width="0.5" opacity="0.68"/>
<rect x="192.33" y="200.60" width="2.4" height="1.4" fill="#1e3a1e"/>
<rect x="195.88" y="197.70" width="2.2" height="1.4" fill="#8a1830"/>
<path d="M192.28,189.20L192.28,186.90Q192.28,186.30 192.88,186.30L196.58,186.30Q197.18,186.30 197.18,186.90L197.18,189.20" fill="none" stroke="#222" stroke-width="0.75"/>
<text x="194.73" y="188.08" font-size="4.7" font-weight="bold" text-anchor="middle" fill="#1a1a1a" stroke="#1a1a1a" stroke-width="0.2">***</text>
<circle cx="201.75" cy="200.79" r="0.55" fill="none" stroke="#66bb66" stroke-width="0.5" opacity="0.62"/>
<circle cx="201.88" cy="199.89" r="0.55" fill="none" stroke="#66bb66" stroke-width="0.5" opacity="0.62"/>
<circle cx="201.78" cy="200.91" r="0.55" fill="none" stroke="#66bb66" stroke-width="0.5" opacity="0.62"/>
<circle cx="203.33" cy="201.14" r="0.55" fill="none" stroke="#66bb66" stroke-width="0.5" opacity="0.62"/>
<circle cx="202.65" cy="204.85" r="0.55" fill="none" stroke="#66bb66" stroke-width="0.5" opacity="0.62"/>
<circle cx="203.16" cy="197.71" r="0.55" fill="none" stroke="#66bb66" stroke-width="0.5" opacity="0.62"/>
<circle cx="202.20" cy="202.80" r="0.55" fill="none" stroke="#66bb66" stroke-width="0.5" opacity="0.62"/>
<circle cx="202.32" cy="198.11" r="0.55" fill="none" stroke="#66bb66" stroke-width="0.5" opacity="0.62"/>
<circle cx="202.01" cy="197.68" r="0.55" fill="none" stroke="#66bb66" stroke-width="0.5" opacity="0.62"/>
<circle cx="202.05" cy="203.40" r="0.55" fill="none" stroke="#66bb66" stroke-width="0.5" opacity="0.62"/>
<circle cx="202.50" cy="205.45" r="0.55" fill="none" stroke="#66bb66" stroke-width="0.5" opacity="0.62"/>
<circle cx="203.12" cy="205.60" r="0.55" fill="none" stroke="#66bb66" stroke-width="0.5" opacity="0.62"/>
<path d="M205.55,202.95L206.25,201.85L206.95,202.95Z" fill="none" stroke="#e0506e" stroke-width="0.5" opacity="0.68"/>
<path d="M204.55,195.83L205.25,194.73L205.95,195.83Z" fill="none" stroke="#e0506e" stroke-width="0.5" opacity="0.68"/>
<path d="M204.58,203.10L205.28,202.00L205.98,203.10Z" fill="none" stroke="#e0506e" stroke-width="0.5" opacity="0.68"/>
<path d="M204.37,195.02L205.07,193.92L205.77,195.02Z" fill="none" stroke="#e0506e" stroke-width="0.5" opacity="0.68"/>
<path d="M205.04,199.95L205.74,198.85L206.44,199.95Z" fill="none" stroke="#e0506e" stroke-width="0.5" opacity="0.68"/>
<path d="M205.41,199.52L206.11,198.42L206.81,199.52Z" fill="none" stroke="#e0506e" stroke-width="0.5" opacity="0.68"/>
<path d="M205.07,198.78L205.77,197.68L206.47,198.78Z" fill="none" stroke="#e0506e" stroke-width="0.5" opacity="0.68"/>
<path d="M204.56,197.70L205.26,196.60L205.96,197.70Z" fill="none" stroke="#e0506e" stroke-width="0.5" opacity="0.68"/>
<path d="M206.44,193.89L207.14,192.79L207.84,193.89Z" fill="none" stroke="#e0506e" stroke-width="0.5" opacity="0.68"/>
<path d="M204.50,202.11L205.20,201.01L205.90,202.11Z" fill="none" stroke="#e0506e" stroke-width="0.5" opacity="0.68"/>
<path d="M206.65,200.71L207.35,199.61L208.05,200.71Z" fill="none" stroke="#e0506e" stroke-width="0.5" opacity="0.68"/>
<path d="M206.48,197.05L207.18,195.95L207.88,197.05Z" fill="none" stroke="#e0506e" stroke-width="0.5" opacity="0.68"/>
<rect x="201.61" y="200.60" width="2.4" height="1.4" fill="#1e3a1e"/>
<rect x="205.16" y="197.10" width="2.2" height="1.4" fill="#8a1830"/>
<path d="M201.56,189.00L201.56,186.90Q201.56,186.30 202.16,186.30L205.86,186.30Q206.46,186.30 206.46,186.90L206.46,189.00" fill="none" stroke="#222" stroke-width="0.75"/>
<text x="204.01" y="188.08" font-size="4.7" font-weight="bold" text-anchor="middle" fill="#1a1a1a" stroke="#1a1a1a" stroke-width="0.2">**</text>
<circle cx="211.09" cy="199.29" r="0.55" fill="none" stroke="#66bb66" stroke-width="0.5" opacity="0.62"/>
<circle cx="212.16" cy="203.58" r="0.55" fill="none" stroke="#66bb66" stroke-width="0.5" opacity="0.62"/>
<circle cx="213.03" cy="201.67" r="0.55" fill="none" stroke="#66bb66" stroke-width="0.5" opacity="0.62"/>
<circle cx="211.12" cy="202.21" r="0.55" fill="none" stroke="#66bb66" stroke-width="0.5" opacity="0.62"/>
<circle cx="211.43" cy="204.88" r="0.55" fill="none" stroke="#66bb66" stroke-width="0.5" opacity="0.62"/>
<circle cx="211.08" cy="205.22" r="0.55" fill="none" stroke="#66bb66" stroke-width="0.5" opacity="0.62"/>
<circle cx="212.21" cy="197.39" r="0.55" fill="none" stroke="#66bb66" stroke-width="0.5" opacity="0.62"/>
<circle cx="212.62" cy="209.59" r="0.55" fill="none" stroke="#66bb66" stroke-width="0.5" opacity="0.62"/>
<circle cx="213.19" cy="200.30" r="0.55" fill="none" stroke="#66bb66" stroke-width="0.5" opacity="0.62"/>
<circle cx="211.03" cy="207.17" r="0.55" fill="none" stroke="#66bb66" stroke-width="0.5" opacity="0.62"/>
<circle cx="211.40" cy="198.67" r="0.55" fill="none" stroke="#66bb66" stroke-width="0.5" opacity="0.62"/>
<circle cx="212.38" cy="197.27" r="0.55" fill="none" stroke="#66bb66" stroke-width="0.5" opacity="0.62"/>
<path d="M214.04,203.68L214.74,202.58L215.44,203.68Z" fill="none" stroke="#e0506e" stroke-width="0.5" opacity="0.68"/>
<path d="M215.62,202.53L216.32,201.43L217.02,202.53Z" fill="none" stroke="#e0506e" stroke-width="0.5" opacity="0.68"/>
<path d="M215.37,194.84L216.07,193.74L216.77,194.84Z" fill="none" stroke="#e0506e" stroke-width="0.5" opacity="0.68"/>
<path d="M215.57,197.21L216.27,196.11L216.97,197.21Z" fill="none" stroke="#e0506e" stroke-width="0.5" opacity="0.68"/>
<path d="M214.10,198.66L214.80,197.56L215.50,198.66Z" fill="none" stroke="#e0506e" stroke-width="0.5" opacity="0.68"/>
<path d="M213.69,199.20L214.39,198.10L215.09,199.20Z" fill="none" stroke="#e0506e" stroke-width="0.5" opacity="0.68"/>
<path d="M214.34,197.18L215.04,196.08L215.74,197.18Z" fill="none" stroke="#e0506e" stroke-width="0.5" opacity="0.68"/>
<path d="M214.93,203.71L215.63,202.61L216.33,203.71Z" fill="none" stroke="#e0506e" stroke-width="0.5" opacity="0.68"/>
<path d="M214.46,199.52L215.16,198.42L215.86,199.52Z" fill="none" stroke="#e0506e" stroke-width="0.5" opacity="0.68"/>
<path d="M213.73,195.76L214.43,194.66L215.13,195.76Z" fill="none" stroke="#e0506e" stroke-width="0.5" opacity="0.68"/>
<path d="M214.78,198.02L215.48,196.92L216.18,198.02Z" fill="none" stroke="#e0506e" stroke-width="0.5" opacity="0.68"/>
<path d="M215.11,195.31L215.81,194.21L216.51,195.31Z" fill="none" stroke="#e0506e" stroke-width="0.5" opacity="0.68"/>
<rect x="210.89" y="200.00" width="2.4" height="1.4" fill="#1e3a1e"/>
<rect x="214.44" y="198.30" width="2.2" height="1.4" fill="#8a1830"/>
<path d="M210.84,194.40L210.84,192.70Q210.84,192.10 211.44,192.10L215.14,192.10Q215.74,192.10 215.74,192.70L215.74,194.40" fill="none" stroke="#222" stroke-width="0.75"/>
<text x="213.29" y="193.88" font-size="4.7" font-weight="bold" text-anchor="middle" fill="#1a1a1a" stroke="#1a1a1a" stroke-width="0.2">***</text>
<circle cx="221.58" cy="197.24" r="0.55" fill="none" stroke="#66bb66" stroke-width="0.5" opacity="0.62"/>
<circle cx="221.55" cy="199.21" r="0.55" fill="none" stroke="#66bb66" stroke-width="0.5" opacity="0.62"/>
<circle cx="220.97" cy="198.73" r="0.55" fill="none" stroke="#66bb66" stroke-width="0.5" opacity="0.62"/>
<circle cx="220.52" cy="200.63" r="0.55" fill="none" stroke="#66bb66" stroke-width="0.5" opacity="0.62"/>
<circle cx="220.80" cy="204.36" r="0.55" fill="none" stroke="#66bb66" stroke-width="0.5" opacity="0.62"/>
<circle cx="220.25" cy="209.61" r="0.55" fill="none" stroke="#66bb66" stroke-width="0.5" opacity="0.62"/>
<circle cx="221.69" cy="207.15" r="0.55" fill="none" stroke="#66bb66" stroke-width="0.5" opacity="0.62"/>
<circle cx="222.26" cy="207.38" r="0.55" fill="none" stroke="#66bb66" stroke-width="0.5" opacity="0.62"/>
<circle cx="221.94" cy="207.04" r="0.55" fill="none" stroke="#66bb66" stroke-width="0.5" opacity="0.62"/>
<circle cx="221.14" cy="204.84" r="0.55" fill="none" stroke="#66bb66" stroke-width="0.5" opacity="0.62"/>
<circle cx="221.33" cy="196.76" r="0.55" fill="none" stroke="#66bb66" stroke-width="0.5" opacity="0.62"/>
<circle cx="220.50" cy="199.68" r="0.55" fill="none" stroke="#66bb66" stroke-width="0.5" opacity="0.62"/>
<path d="M224.28,197.15L224.98,196.05L225.68,197.15Z" fill="none" stroke="#e0506e" stroke-width="0.5" opacity="0.68"/>
<path d="M223.66,197.85L224.36,196.75L225.06,197.85Z" fill="none" stroke="#e0506e" stroke-width="0.5" opacity="0.68"/>
<path d="M225.13,200.13L225.83,199.03L226.53,200.13Z" fill="none" stroke="#e0506e" stroke-width="0.5" opacity="0.68"/>
<path d="M225.29,201.37L225.99,200.27L226.69,201.37Z" fill="none" stroke="#e0506e" stroke-width="0.5" opacity="0.68"/>
<path d="M223.08,194.74L223.78,193.64L224.48,194.74Z" fill="none" stroke="#e0506e" stroke-width="0.5" opacity="0.68"/>
<path d="M222.98,198.04L223.68,196.94L224.38,198.04Z" fill="none" stroke="#e0506e" stroke-width="0.5" opacity="0.68"/>
<path d="M223.88,198.21L224.58,197.11L225.28,198.21Z" fill="none" stroke="#e0506e" stroke-width="0.5" opacity="0.68"/>
<path d="M223.39,196.05L224.09,194.95L224.79,196.05Z" fill="none" stroke="#e0506e" stroke-width="0.5" opacity="0.68"/>
<path d="M224.86,199.09L225.56,197.99L226.26,199.09Z" fill="none" stroke="#e0506e" stroke-width="0.5" opacity="0.68"/>
<path d="M224.21,199.47L224.91,198.37L225.61,199.47Z" fill="none" stroke="#e0506e" stroke-width="0.5" opacity="0.68"/>
<path d="M223.70,199.57L224.40,198.47L225.10,199.57Z" fill="none" stroke="#e0506e" stroke-width="0.5" opacity="0.68"/>
<path d="M223.73,201.92L224.43,200.82L225.13,201.92Z" fill="none" stroke="#e0506e" stroke-width="0.5" opacity="0.68"/>
<rect x="220.17" y="200.00" width="2.4" height="1.4" fill="#1e3a1e"/>
<rect x="223.72" y="197.70" width="2.2" height="1.4" fill="#8a1830"/>
<path d="M220.12,194.80L220.12,193.20Q220.12,192.60 220.72,192.60L224.42,192.60Q225.02,192.60 225.02,193.20L225.02,194.80" fill="none" stroke="#222" stroke-width="0.75"/>
<text x="222.57" y="194.38" font-size="4.7" font-weight="bold" text-anchor="middle" fill="#1a1a1a" stroke="#1a1a1a" stroke-width="0.2">***</text>
<circle cx="230.25" cy="199.12" r="0.55" fill="none" stroke="#66bb66" stroke-width="0.5" opacity="0.62"/>
<circle cx="229.48" cy="199.83" r="0.55" fill="none" stroke="#66bb66" stroke-width="0.5" opacity="0.62"/>
<circle cx="230.92" cy="201.51" r="0.55" fill="none" stroke="#66bb66" stroke-width="0.5" opacity="0.62"/>
<circle cx="229.79" cy="202.11" r="0.55" fill="none" stroke="#66bb66" stroke-width="0.5" opacity="0.62"/>
<circle cx="230.74" cy="204.24" r="0.55" fill="none" stroke="#66bb66" stroke-width="0.5" opacity="0.62"/>
<circle cx="230.24" cy="205.95" r="0.55" fill="none" stroke="#66bb66" stroke-width="0.5" opacity="0.62"/>
<circle cx="231.31" cy="207.64" r="0.55" fill="none" stroke="#66bb66" stroke-width="0.5" opacity="0.62"/>
<circle cx="230.12" cy="199.87" r="0.55" fill="none" stroke="#66bb66" stroke-width="0.5" opacity="0.62"/>
<circle cx="230.59" cy="201.32" r="0.55" fill="none" stroke="#66bb66" stroke-width="0.5" opacity="0.62"/>
<circle cx="230.00" cy="210.18" r="0.55" fill="none" stroke="#66bb66" stroke-width="0.5" opacity="0.62"/>
<circle cx="229.59" cy="201.96" r="0.55" fill="none" stroke="#66bb66" stroke-width="0.5" opacity="0.62"/>
<circle cx="230.33" cy="209.60" r="0.55" fill="none" stroke="#66bb66" stroke-width="0.5" opacity="0.62"/>
<path d="M232.59,195.00L233.29,193.90L233.99,195.00Z" fill="none" stroke="#e0506e" stroke-width="0.5" opacity="0.68"/>
<path d="M233.40,194.61L234.10,193.51L234.80,194.61Z" fill="none" stroke="#e0506e" stroke-width="0.5" opacity="0.68"/>
<path d="M232.98,201.32L233.68,200.22L234.38,201.32Z" fill="none" stroke="#e0506e" stroke-width="0.5" opacity="0.68"/>
<path d="M233.75,199.64L234.45,198.54L235.15,199.64Z" fill="none" stroke="#e0506e" stroke-width="0.5" opacity="0.68"/>
<path d="M233.18,197.12L233.88,196.02L234.58,197.12Z" fill="none" stroke="#e0506e" stroke-width="0.5" opacity="0.68"/>
<path d="M232.80,200.22L233.50,199.12L234.20,200.22Z" fill="none" stroke="#e0506e" stroke-width="0.5" opacity="0.68"/>
<path d="M234.02,198.87L234.72,197.77L235.42,198.87Z" fill="none" stroke="#e0506e" stroke-width="0.5" opacity="0.68"/>
<path d="M233.57,200.18L234.27,199.08L234.97,200.18Z" fill="none" stroke="#e0506e" stroke-width="0.5" opacity="0.68"/>
<path d="M234.00,198.60L234.70,197.50L235.40,198.60Z" fill="none" stroke="#e0506e" stroke-width="0.5" opacity="0.68"/>
<path d="M234.34,201.45L235.04,200.35L235.74,201.45Z" fill="none" stroke="#e0506e" stroke-width="0.5" opacity="0.68"/>
<path d="M233.59,197.71L234.29,196.61L234.99,197.71Z" fill="none" stroke="#e0506e" stroke-width="0.5" opacity="0.68"/>
<path d="M234.07,200.83L234.77,199.73L235.47,200.83Z" fill="none" stroke="#e0506e" stroke-width="0.5" opacity="0.68"/>
<rect x="229.45" y="200.60" width="2.4" height="1.4" fill="#1e3a1e"/>
<rect x="233.00" y="198.30" width="2.2" height="1.4" fill="#8a1830"/>
<path d="M229.40,192.70L229.40,191.50Q229.40,190.90 230.00,190.90L233.70,190.90Q234.30,190.90 234.30,191.50L234.30,192.70" fill="none" stroke="#222" stroke-width="0.75"/>
<text x="231.85" y="192.68" font-size="4.7" font-weight="bold" text-anchor="middle" fill="#1a1a1a" stroke="#1a1a1a" stroke-width="0.2">**</text>
<circle cx="239.44" cy="209.64" r="0.55" fill="none" stroke="#66bb66" stroke-width="0.5" opacity="0.62"/>
<circle cx="240.92" cy="200.69" r="0.55" fill="none" stroke="#66bb66" stroke-width="0.5" opacity="0.62"/>
<circle cx="240.37" cy="200.30" r="0.55" fill="none" stroke="#66bb66" stroke-width="0.5" opacity="0.62"/>
<circle cx="240.85" cy="198.11" r="0.55" fill="none" stroke="#66bb66" stroke-width="0.5" opacity="0.62"/>
<circle cx="240.38" cy="207.35" r="0.55" fill="none" stroke="#66bb66" stroke-width="0.5" opacity="0.62"/>
<circle cx="238.98" cy="199.36" r="0.55" fill="none" stroke="#66bb66" stroke-width="0.5" opacity="0.62"/>
<circle cx="239.02" cy="197.32" r="0.55" fill="none" stroke="#66bb66" stroke-width="0.5" opacity="0.62"/>
<circle cx="240.37" cy="200.27" r="0.55" fill="none" stroke="#66bb66" stroke-width="0.5" opacity="0.62"/>
<circle cx="239.58" cy="200.47" r="0.55" fill="none" stroke="#66bb66" stroke-width="0.5" opacity="0.62"/>
<circle cx="241.05" cy="200.16" r="0.55" fill="none" stroke="#66bb66" stroke-width="0.5" opacity="0.62"/>
<circle cx="239.37" cy="201.65" r="0.55" fill="none" stroke="#66bb66" stroke-width="0.5" opacity="0.62"/>
<circle cx="240.07" cy="199.45" r="0.55" fill="none" stroke="#66bb66" stroke-width="0.5" opacity="0.62"/>
<path d="M242.79,197.23L243.49,196.13L244.19,197.23Z" fill="none" stroke="#e0506e" stroke-width="0.5" opacity="0.68"/>
<path d="M243.20,204.30L243.90,203.20L244.60,204.30Z" fill="none" stroke="#e0506e" stroke-width="0.5" opacity="0.68"/>
<path d="M242.41,195.28L243.11,194.18L243.81,195.28Z" fill="none" stroke="#e0506e" stroke-width="0.5" opacity="0.68"/>
<path d="M241.49,195.11L242.19,194.01L242.89,195.11Z" fill="none" stroke="#e0506e" stroke-width="0.5" opacity="0.68"/>
<path d="M242.38,202.73L243.08,201.63L243.78,202.73Z" fill="none" stroke="#e0506e" stroke-width="0.5" opacity="0.68"/>
<path d="M243.36,196.10L244.06,195.00L244.76,196.10Z" fill="none" stroke="#e0506e" stroke-width="0.5" opacity="0.68"/>
<path d="M243.03,201.26L243.73,200.16L244.43,201.26Z" fill="none" stroke="#e0506e" stroke-width="0.5" opacity="0.68"/>
<path d="M243.27,200.10L243.97,199.00L244.67,200.10Z" fill="none" stroke="#e0506e" stroke-width="0.5" opacity="0.68"/>
<path d="M242.04,205.07L242.74,203.97L243.44,205.07Z" fill="none" stroke="#e0506e" stroke-width="0.5" opacity="0.68"/>
<path d="M242.42,203.32L243.12,202.22L243.82,203.32Z" fill="none" stroke="#e0506e" stroke-width="0.5" opacity="0.68"/>
<path d="M242.99,201.25L243.69,200.15L244.39,201.25Z" fill="none" stroke="#e0506e" stroke-width="0.5" opacity="0.68"/>
<path d="M243.66,200.99L244.36,199.89L245.06,200.99Z" fill="none" stroke="#e0506e" stroke-width="0.5" opacity="0.68"/>
<rect x="238.73" y="200.00" width="2.4" height="1.4" fill="#1e3a1e"/>
<rect x="242.28" y="198.90" width="2.2" height="1.4" fill="#8a1830"/>
<path d="M238.68,192.70L238.68,190.70Q238.68,190.10 239.28,190.10L242.98,190.10Q243.58,190.10 243.58,190.70L243.58,192.70" fill="none" stroke="#222" stroke-width="0.75"/>
<text x="241.13" y="191.88" font-size="4.7" font-weight="bold" text-anchor="middle" fill="#1a1a1a" stroke="#1a1a1a" stroke-width="0.2">**</text>
<path d="M57.08,168.0L57.78,166.9L58.48,168.0Z" fill="none" stroke="#e8a0b0" stroke-width="0.45"/>
<path d="M57.08,171.5L57.78,170.4L58.48,171.5Z" fill="none" stroke="#e8a0b0" stroke-width="0.45"/>
<path d="M57.08,175.0L57.78,173.9L58.48,175.0Z" fill="none" stroke="#e8a0b0" stroke-width="0.45"/>
<path d="M57.08,178.5L57.78,177.4L58.48,178.5Z" fill="none" stroke="#e8a0b0" stroke-width="0.45"/>
<path d="M57.08,182.0L57.78,180.9L58.48,182.0Z" fill="none" stroke="#e8a0b0" stroke-width="0.45"/>
<circle cx="57.9" cy="229.5" r="0.6" fill="none" stroke="#bbb" stroke-width="0.5"/>
<circle cx="72.9" cy="222" r="0.6" fill="none" stroke="#bbb" stroke-width="0.5"/>
<line x1="303.4" y1="10.3" x2="303.4" y2="98" stroke="#222222" stroke-width="0.8"/>
<line x1="301.59999999999997" y1="98.00" x2="303.4" y2="98.00" stroke="#222222" stroke-width="0.7"/>
<text x="300.79999999999995" y="99.85" font-size="5.2" font-weight="bold" text-anchor="end" fill="#1a1a1a">0.0</text>
<line x1="301.59999999999997" y1="80.50" x2="303.4" y2="80.50" stroke="#222222" stroke-width="0.7"/>
<text x="300.79999999999995" y="82.35" font-size="5.2" font-weight="bold" text-anchor="end" fill="#1a1a1a">0.2</text>
<line x1="301.59999999999997" y1="63.00" x2="303.4" y2="63.00" stroke="#222222" stroke-width="0.7"/>
<text x="300.79999999999995" y="64.85" font-size="5.2" font-weight="bold" text-anchor="end" fill="#1a1a1a">0.4</text>
<line x1="301.59999999999997" y1="45.50" x2="303.4" y2="45.50" stroke="#222222" stroke-width="0.7"/>
<text x="300.79999999999995" y="47.35" font-size="5.2" font-weight="bold" text-anchor="end" fill="#1a1a1a">0.6</text>
<line x1="301.59999999999997" y1="28.00" x2="303.4" y2="28.00" stroke="#222222" stroke-width="0.7"/>
<text x="300.79999999999995" y="29.85" font-size="5.2" font-weight="bold" text-anchor="end" fill="#1a1a1a">0.8</text>
<line x1="301.59999999999997" y1="10.50" x2="303.4" y2="10.50" stroke="#222222" stroke-width="0.7"/>
<text x="300.79999999999995" y="12.35" font-size="5.2" font-weight="bold" text-anchor="end" fill="#1a1a1a">1.0</text>
<line x1="303.4" y1="98" x2="489.5" y2="98" stroke="#222222" stroke-width="0.8"/>
<rect x="307.70" y="27.43" width="6.10" height="70.58" fill="#1431e0" stroke="#141c70" stroke-width="0.75"/>
<rect x="316.20" y="29.18" width="6.10" height="68.83" fill="#a81a1a" stroke="#5a0808" stroke-width="0.75"/>
<line x1="315.00" y1="98" x2="315.00" y2="99.8" stroke="#222222" stroke-width="0.7"/>
<text transform="translate(315.80,104.2) rotate(-45)" font-size="4.05" font-weight="bold" text-anchor="end" fill="#3a3a3a" style="stroke-width:0.02px">GSH</text>
<rect x="330.80" y="46.06" width="6.10" height="51.94" fill="#1431e0" stroke="#141c70" stroke-width="0.75"/>
<rect x="339.30" y="44.92" width="6.10" height="53.08" fill="#a81a1a" stroke="#5a0808" stroke-width="0.75"/>
<line x1="338.10" y1="98" x2="338.10" y2="99.8" stroke="#222222" stroke-width="0.7"/>
<text transform="translate(338.90,104.2) rotate(-45)" font-size="4.05" font-weight="bold" text-anchor="end" fill="#3a3a3a" style="stroke-width:0.02px">Lysine</text>
<rect x="353.90" y="24.10" width="6.10" height="73.90" fill="#1431e0" stroke="#141c70" stroke-width="0.75"/>
<rect x="362.40" y="51.92" width="6.10" height="46.08" fill="#a81a1a" stroke="#5a0808" stroke-width="0.75"/>
<line x1="361.20" y1="98" x2="361.20" y2="99.8" stroke="#222222" stroke-width="0.7"/>
<text transform="translate(362.00,104.2) rotate(-45)" font-size="4.05" font-weight="bold" text-anchor="end" fill="#3a3a3a" style="stroke-width:0.02px">Niacinamide</text>
<rect x="377.00" y="47.55" width="6.10" height="50.45" fill="#1431e0" stroke="#141c70" stroke-width="0.75"/>
<rect x="385.50" y="52.80" width="6.10" height="45.20" fill="#a81a1a" stroke="#5a0808" stroke-width="0.75"/>
<line x1="384.30" y1="98" x2="384.30" y2="99.8" stroke="#222222" stroke-width="0.7"/>
<text transform="translate(385.10,104.2) rotate(-45)" font-size="4.05" font-weight="bold" text-anchor="end" fill="#3a3a3a" style="stroke-width:0.02px">Ornithine</text>
<rect x="400.10" y="60.67" width="6.10" height="37.33" fill="#1431e0" stroke="#141c70" stroke-width="0.75"/>
<rect x="408.60" y="53.67" width="6.10" height="44.33" fill="#a81a1a" stroke="#5a0808" stroke-width="0.75"/>
<line x1="407.40" y1="98" x2="407.40" y2="99.8" stroke="#222222" stroke-width="0.7"/>
<text transform="translate(408.20,104.2) rotate(-45)" font-size="4.05" font-weight="bold" text-anchor="end" fill="#3a3a3a" style="stroke-width:0.02px">Aspartate</text>
<rect x="423.20" y="16.05" width="6.10" height="81.95" fill="#1431e0" stroke="#141c70" stroke-width="0.75"/>
<rect x="431.70" y="54.55" width="6.10" height="43.45" fill="#a81a1a" stroke="#5a0808" stroke-width="0.75"/>
<line x1="430.50" y1="98" x2="430.50" y2="99.8" stroke="#222222" stroke-width="0.7"/>
<text transform="translate(431.30,104.2) rotate(-45)" font-size="4.05" font-weight="bold" text-anchor="end" fill="#3a3a3a" style="stroke-width:0.02px">Hexose</text>
<rect x="446.30" y="19.11" width="6.10" height="78.89" fill="#1431e0" stroke="#141c70" stroke-width="0.75"/>
<rect x="454.80" y="60.32" width="6.10" height="37.68" fill="#a81a1a" stroke="#5a0808" stroke-width="0.75"/>
<line x1="453.60" y1="98" x2="453.60" y2="99.8" stroke="#222222" stroke-width="0.7"/>
<text transform="translate(454.40,104.2) rotate(-45)" font-size="4.05" font-weight="bold" text-anchor="end" fill="#3a3a3a" style="stroke-width:0.02px">Citrulline</text>
<rect x="469.40" y="75.99" width="6.10" height="22.01" fill="#1431e0" stroke="#141c70" stroke-width="0.75"/>
<rect x="477.90" y="63.30" width="6.10" height="34.70" fill="#a81a1a" stroke="#5a0808" stroke-width="0.75"/>
<line x1="476.70" y1="98" x2="476.70" y2="99.8" stroke="#222222" stroke-width="0.7"/>
<text transform="translate(477.50,104.2) rotate(-45)" font-size="4.05" font-weight="bold" text-anchor="end" fill="#3a3a3a" style="stroke-width:0.02px">GSSG</text>
<text transform="translate(285.3,52.9) rotate(-90)" font-size="4.85" text-anchor="middle" fill="#2a2a2a" style="stroke-width:0.04px">Ratios of metabolites concentrations</text>
<rect x="341.8" y="129.8" width="3.6" height="3.3" fill="#1c2ab0" stroke="#101850" stroke-width="0.6"/>
<rect x="341.8" y="137.5" width="3.6" height="3.3" fill="#8a1818" stroke="#500808" stroke-width="0.6"/>
<text x="348" y="134.7" font-size="5.33" fill="#222" style="stroke-width:0.05px">Mean of younger fraction values / Mean of all fractions values</text>
<text x="348" y="141.6" font-size="5.33" fill="#222" style="stroke-width:0.05px">Mean of SCD values / Mean of control values</text>
<line x1="296" y1="169.8" x2="296" y2="186" stroke="#222222" stroke-width="0.95"/>
<line x1="296" y1="191" x2="296" y2="257" stroke="#222222" stroke-width="0.95"/>
<circle cx="296" cy="185.6" r="0.75" fill="#222222"/>
<circle cx="296" cy="191.3" r="0.75" fill="#222222"/>
<line x1="294.2" y1="171.90" x2="296" y2="171.90" stroke="#222222" stroke-width="0.7"/>
<text x="292.1" y="173.75" font-size="5.2" font-weight="bold" text-anchor="end" fill="#1a1a1a">10</text>
<line x1="294.2" y1="180.20" x2="296" y2="180.20" stroke="#222222" stroke-width="0.7"/>
<text x="292.1" y="182.05" font-size="5.2" font-weight="bold" text-anchor="end" fill="#1a1a1a">8</text>
<line x1="294.2" y1="196.00" x2="296" y2="196.00" stroke="#222222" stroke-width="0.7"/>
<text x="292.1" y="197.85" font-size="5.2" font-weight="bold" text-anchor="end" fill="#1a1a1a">6</text>
<line x1="294.2" y1="216.20" x2="296" y2="216.20" stroke="#222222" stroke-width="0.7"/>
<text x="292.1" y="218.05" font-size="5.2" font-weight="bold" text-anchor="end" fill="#1a1a1a">4</text>
<line x1="294.2" y1="236.60" x2="296" y2="236.60" stroke="#222222" stroke-width="0.7"/>
<text x="292.1" y="238.45" font-size="5.2" font-weight="bold" text-anchor="end" fill="#1a1a1a">2</text>
<line x1="294.2" y1="257.00" x2="296" y2="257.00" stroke="#222222" stroke-width="0.7"/>
<text x="292.1" y="258.85" font-size="5.2" font-weight="bold" text-anchor="end" fill="#1a1a1a">0</text>
<line x1="294.8" y1="257" x2="517.4" y2="257" stroke="#222222" stroke-width="0.8"/>
<rect x="298.35" y="243.28" width="2.40" height="13.72" fill="#1f30c8" stroke="#101a70" stroke-width="0.5"/>
<rect x="302.25" y="245.52" width="2.50" height="11.48" fill="#901c1c" stroke="#4a0c0c" stroke-width="0.5"/>
<line x1="301.30" y1="257" x2="301.30" y2="258.8" stroke="#222222" stroke-width="0.7"/>
<text transform="translate(302.20,262.6) rotate(-45)" font-size="4.15" font-weight="bold" text-anchor="end" fill="#3a3a3a" style="stroke-width:0.02px">Tyrosine</text>
<rect x="309.35" y="248.27" width="2.40" height="8.73" fill="#1f30c8" stroke="#101a70" stroke-width="0.5"/>
<rect x="313.25" y="244.40" width="2.50" height="12.60" fill="#901c1c" stroke="#4a0c0c" stroke-width="0.5"/>
<line x1="312.30" y1="257" x2="312.30" y2="258.8" stroke="#222222" stroke-width="0.7"/>
<text transform="translate(313.20,262.6) rotate(-45)" font-size="4.15" font-weight="bold" text-anchor="end" fill="#3a3a3a" style="stroke-width:0.02px">1,3-Bis-P-Glycerate</text>
<rect x="320.35" y="248.27" width="2.40" height="8.73" fill="#1f30c8" stroke="#101a70" stroke-width="0.5"/>
<rect x="324.25" y="244.40" width="2.50" height="12.60" fill="#901c1c" stroke="#4a0c0c" stroke-width="0.5"/>
<line x1="323.30" y1="257" x2="323.30" y2="258.8" stroke="#222222" stroke-width="0.7"/>
<text transform="translate(324.20,262.6) rotate(-45)" font-size="4.15" font-weight="bold" text-anchor="end" fill="#3a3a3a" style="stroke-width:0.02px">Hexose-1-P</text>
<rect x="331.35" y="247.56" width="2.40" height="9.44" fill="#1f30c8" stroke="#101a70" stroke-width="0.5"/>
<rect x="335.25" y="243.79" width="2.50" height="13.21" fill="#901c1c" stroke="#4a0c0c" stroke-width="0.5"/>
<line x1="334.30" y1="257" x2="334.30" y2="258.8" stroke="#222222" stroke-width="0.7"/>
<text transform="translate(335.20,262.6) rotate(-45)" font-size="4.15" font-weight="bold" text-anchor="end" fill="#3a3a3a" style="stroke-width:0.02px">Phosphoenolpyruvic acid</text>
<rect x="342.35" y="247.56" width="2.40" height="9.44" fill="#1f30c8" stroke="#101a70" stroke-width="0.5"/>
<rect x="346.25" y="242.15" width="2.50" height="14.85" fill="#901c1c" stroke="#4a0c0c" stroke-width="0.5"/>
<line x1="345.30" y1="257" x2="345.30" y2="258.8" stroke="#222222" stroke-width="0.7"/>
<text transform="translate(346.20,262.6) rotate(-45)" font-size="4.15" font-weight="bold" text-anchor="end" fill="#3a3a3a" style="stroke-width:0.02px">Glycine</text>
<rect x="353.35" y="245.21" width="2.40" height="11.79" fill="#1f30c8" stroke="#101a70" stroke-width="0.5"/>
<rect x="357.25" y="242.05" width="2.50" height="14.95" fill="#901c1c" stroke="#4a0c0c" stroke-width="0.5"/>
<line x1="356.30" y1="257" x2="356.30" y2="258.8" stroke="#222222" stroke-width="0.7"/>
<text transform="translate(357.20,262.6) rotate(-45)" font-size="4.15" font-weight="bold" text-anchor="end" fill="#3a3a3a" style="stroke-width:0.02px">Serine</text>
<rect x="364.35" y="247.36" width="2.40" height="9.64" fill="#1f30c8" stroke="#101a70" stroke-width="0.5"/>
<rect x="368.25" y="241.54" width="2.50" height="15.46" fill="#901c1c" stroke="#4a0c0c" stroke-width="0.5"/>
<line x1="367.30" y1="257" x2="367.30" y2="258.8" stroke="#222222" stroke-width="0.7"/>
<text transform="translate(368.20,262.6) rotate(-45)" font-size="4.15" font-weight="bold" text-anchor="end" fill="#3a3a3a" style="stroke-width:0.02px">Glutarate</text>
<rect x="375.35" y="246.44" width="2.40" height="10.56" fill="#1f30c8" stroke="#101a70" stroke-width="0.5"/>
<rect x="379.25" y="240.62" width="2.50" height="16.38" fill="#901c1c" stroke="#4a0c0c" stroke-width="0.5"/>
<line x1="378.30" y1="257" x2="378.30" y2="258.8" stroke="#222222" stroke-width="0.7"/>
<text transform="translate(379.20,262.6) rotate(-45)" font-size="4.15" font-weight="bold" text-anchor="end" fill="#3a3a3a" style="stroke-width:0.02px">Glutamine</text>
<rect x="386.35" y="243.17" width="2.40" height="13.83" fill="#1f30c8" stroke="#101a70" stroke-width="0.5"/>
<rect x="390.25" y="240.11" width="2.50" height="16.89" fill="#901c1c" stroke="#4a0c0c" stroke-width="0.5"/>
<line x1="389.30" y1="257" x2="389.30" y2="258.8" stroke="#222222" stroke-width="0.7"/>
<text transform="translate(390.20,262.6) rotate(-45)" font-size="4.15" font-weight="bold" text-anchor="end" fill="#3a3a3a" style="stroke-width:0.02px">Alanine</text>
<rect x="397.35" y="242.46" width="2.40" height="14.54" fill="#1f30c8" stroke="#101a70" stroke-width="0.5"/>
<rect x="401.25" y="233.28" width="2.50" height="23.72" fill="#901c1c" stroke="#4a0c0c" stroke-width="0.5"/>
<line x1="400.30" y1="257" x2="400.30" y2="258.8" stroke="#222222" stroke-width="0.7"/>
<text transform="translate(401.20,262.6) rotate(-45)" font-size="4.15" font-weight="bold" text-anchor="end" fill="#3a3a3a" style="stroke-width:0.02px">Creatine</text>
<rect x="408.35" y="246.03" width="2.40" height="10.97" fill="#1f30c8" stroke="#101a70" stroke-width="0.5"/>
<rect x="412.25" y="231.44" width="2.50" height="25.56" fill="#901c1c" stroke="#4a0c0c" stroke-width="0.5"/>
<line x1="411.30" y1="257" x2="411.30" y2="258.8" stroke="#222222" stroke-width="0.7"/>
<text transform="translate(412.20,262.6) rotate(-45)" font-size="4.15" font-weight="bold" text-anchor="end" fill="#3a3a3a" style="stroke-width:0.02px">Diketogulonic acid</text>
<rect x="419.35" y="243.17" width="2.40" height="13.83" fill="#1f30c8" stroke="#101a70" stroke-width="0.5"/>
<rect x="423.25" y="228.59" width="2.50" height="28.41" fill="#901c1c" stroke="#4a0c0c" stroke-width="0.5"/>
<line x1="422.30" y1="257" x2="422.30" y2="258.8" stroke="#222222" stroke-width="0.7"/>
<text transform="translate(423.20,262.6) rotate(-45)" font-size="4.15" font-weight="bold" text-anchor="end" fill="#3a3a3a" style="stroke-width:0.02px">Malate</text>
<rect x="430.35" y="246.03" width="2.40" height="10.97" fill="#1f30c8" stroke="#101a70" stroke-width="0.5"/>
<rect x="434.25" y="226.45" width="2.50" height="30.55" fill="#901c1c" stroke="#4a0c0c" stroke-width="0.5"/>
<line x1="433.30" y1="257" x2="433.30" y2="258.8" stroke="#222222" stroke-width="0.7"/>
<text transform="translate(434.20,262.6) rotate(-45)" font-size="4.15" font-weight="bold" text-anchor="end" fill="#3a3a3a" style="stroke-width:0.02px">Fumarate</text>
<rect x="441.35" y="222.57" width="2.40" height="34.43" fill="#1f30c8" stroke="#101a70" stroke-width="0.5"/>
<rect x="445.25" y="222.57" width="2.50" height="34.43" fill="#901c1c" stroke="#4a0c0c" stroke-width="0.5"/>
<line x1="444.30" y1="257" x2="444.30" y2="258.8" stroke="#222222" stroke-width="0.7"/>
<text transform="translate(445.20,262.6) rotate(-45)" font-size="4.15" font-weight="bold" text-anchor="end" fill="#3a3a3a" style="stroke-width:0.02px">Threonolactone</text>
<rect x="452.35" y="240.52" width="2.40" height="16.48" fill="#1f30c8" stroke="#101a70" stroke-width="0.5"/>
<rect x="456.25" y="213.39" width="2.50" height="43.61" fill="#901c1c" stroke="#4a0c0c" stroke-width="0.5"/>
<line x1="455.30" y1="257" x2="455.30" y2="258.8" stroke="#222222" stroke-width="0.7"/>
<text transform="translate(456.20,262.6) rotate(-45)" font-size="4.15" font-weight="bold" text-anchor="end" fill="#3a3a3a" style="stroke-width:0.02px">Spermine</text>
<rect x="463.35" y="240.32" width="2.40" height="16.68" fill="#1f30c8" stroke="#101a70" stroke-width="0.5"/>
<rect x="467.25" y="213.39" width="2.50" height="43.61" fill="#901c1c" stroke="#4a0c0c" stroke-width="0.5"/>
<line x1="466.30" y1="257" x2="466.30" y2="258.8" stroke="#222222" stroke-width="0.7"/>
<text transform="translate(467.20,262.6) rotate(-45)" font-size="4.15" font-weight="bold" text-anchor="end" fill="#3a3a3a" style="stroke-width:0.02px">Spermidine</text>
<rect x="474.35" y="237.05" width="2.40" height="19.95" fill="#1f30c8" stroke="#101a70" stroke-width="0.5"/>
<rect x="478.25" y="197.68" width="2.50" height="59.32" fill="#901c1c" stroke="#4a0c0c" stroke-width="0.5"/>
<line x1="477.30" y1="257" x2="477.30" y2="258.8" stroke="#222222" stroke-width="0.7"/>
<text transform="translate(478.20,262.6) rotate(-45)" font-size="4.15" font-weight="bold" text-anchor="end" fill="#3a3a3a" style="stroke-width:0.02px">Choline</text>
<rect x="485.35" y="191.77" width="2.40" height="65.23" fill="#1f30c8" stroke="#101a70" stroke-width="0.5"/>
<rect x="489.25" y="194.32" width="2.50" height="62.68" fill="#901c1c" stroke="#4a0c0c" stroke-width="0.5"/>
<line x1="488.30" y1="257" x2="488.30" y2="258.8" stroke="#222222" stroke-width="0.7"/>
<text transform="translate(489.20,262.6) rotate(-45)" font-size="4.15" font-weight="bold" text-anchor="end" fill="#3a3a3a" style="stroke-width:0.02px">Acetylcarnitine</text>
<rect x="496.35" y="255.52" width="2.40" height="1.48" fill="#1f30c8" stroke="#101a70" stroke-width="0.5"/>
<rect x="500.25" y="191.2" width="2.50" height="65.80" fill="#901c1c" stroke="#4a0c0c" stroke-width="0.5"/>
<rect x="500.25" y="180.45" width="2.50" height="5.35" fill="#901c1c" stroke="#4a0c0c" stroke-width="0.5"/>
<line x1="499.30" y1="257" x2="499.30" y2="258.8" stroke="#222222" stroke-width="0.7"/>
<text transform="translate(500.20,262.6) rotate(-45)" font-size="4.15" font-weight="bold" text-anchor="end" fill="#3a3a3a" style="stroke-width:0.02px">Glyceraldehyde-3-P</text>
<rect x="507.35" y="242.05" width="2.40" height="14.95" fill="#1f30c8" stroke="#101a70" stroke-width="0.5"/>
<rect x="511.25" y="191.2" width="2.50" height="65.80" fill="#901c1c" stroke="#4a0c0c" stroke-width="0.5"/>
<rect x="511.25" y="171.74" width="2.50" height="14.06" fill="#901c1c" stroke="#4a0c0c" stroke-width="0.5"/>
<line x1="510.30" y1="257" x2="510.30" y2="258.8" stroke="#222222" stroke-width="0.7"/>
<text transform="translate(511.20,262.6) rotate(-45)" font-size="4.15" font-weight="bold" text-anchor="end" fill="#3a3a3a" style="stroke-width:0.02px">Carnitine</text>
<text transform="translate(282.9,211.7) rotate(-90)" font-size="4.85" text-anchor="middle" fill="#2a2a2a" style="stroke-width:0.04px">Ratios of metabolites concentrations</text>
<rect x="339.2" y="293.1" width="3.6" height="3.3" fill="#1c2ab0" stroke="#101850" stroke-width="0.6"/>
<rect x="339.2" y="300.2" width="3.6" height="3.3" fill="#8a1818" stroke="#500808" stroke-width="0.6"/>
<text x="345.4" y="297.6" font-size="5.33" fill="#222" style="stroke-width:0.05px">Mean of younger fraction values / Mean of all fractions values</text>
<text x="345.4" y="304.3" font-size="5.33" fill="#222" style="stroke-width:0.05px">Mean of SCD values / Mean of control values</text>
</svg>
</body></html>
